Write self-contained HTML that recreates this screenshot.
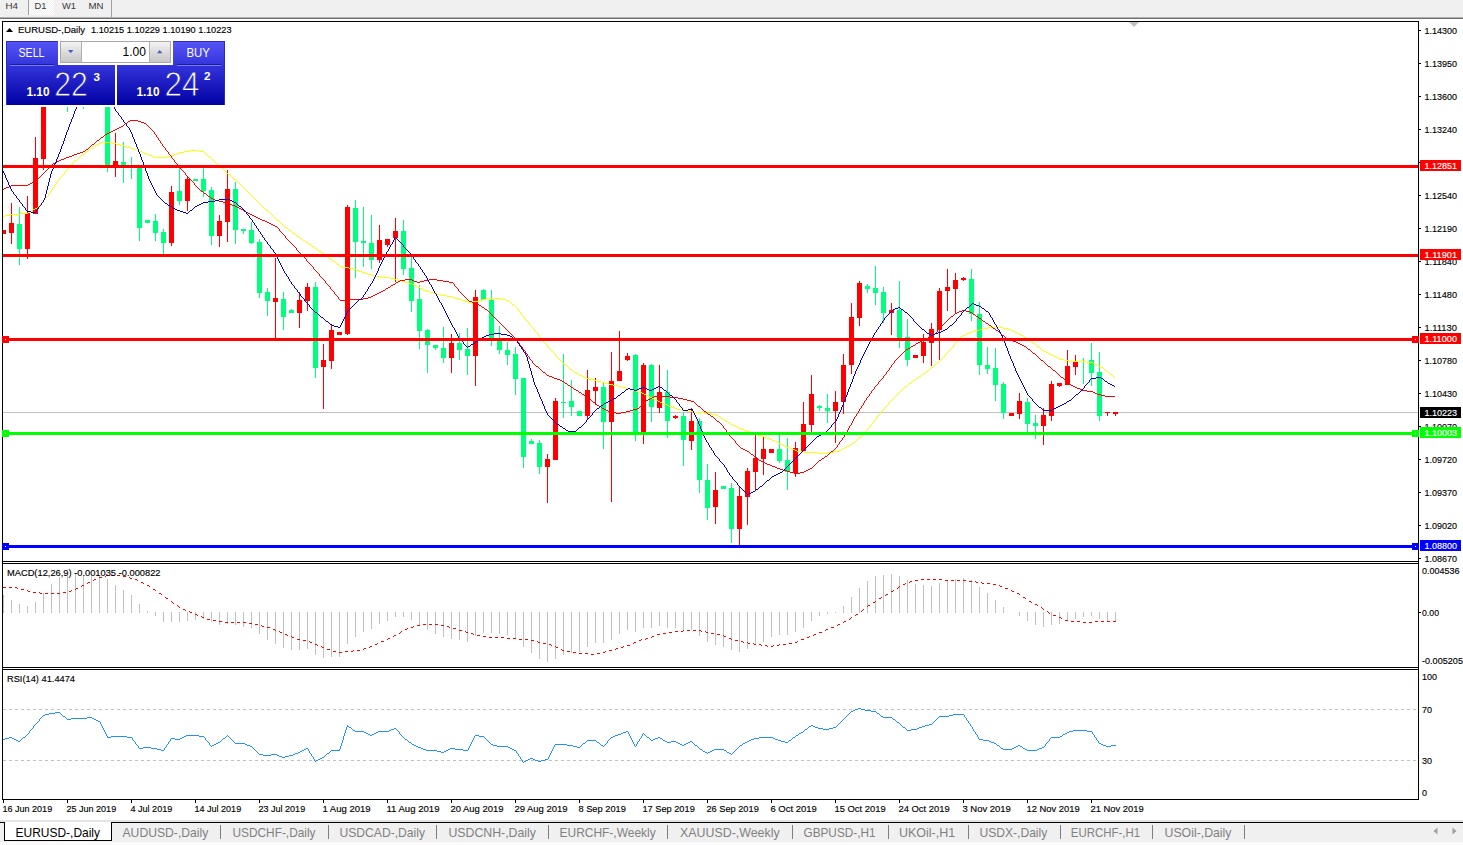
<!DOCTYPE html>
<html><head><meta charset="utf-8"><title>EURUSD-,Daily</title>
<style>html,body{margin:0;padding:0;background:#fff;overflow:hidden}svg{display:block}text{white-space:pre}</style></head>
<body>
<svg width="1463" height="845" viewBox="0 0 1463 845" font-family="Liberation Sans, Arial, sans-serif" shape-rendering="crispEdges">
<defs>
<clipPath id="cm"><rect x="3" y="22" width="1415" height="539"/></clipPath>
<clipPath id="c2"><rect x="3" y="564" width="1415" height="103"/></clipPath>
<clipPath id="c3"><rect x="3" y="670" width="1415" height="129"/></clipPath>
<linearGradient id="gb" gradientUnits="userSpaceOnUse" x1="0" y1="41" x2="0" y2="105"><stop offset="0" stop-color="#5656f6"/><stop offset="0.38" stop-color="#3434dc"/><stop offset="1" stop-color="#0000a2"/></linearGradient>
<linearGradient id="gs" x1="0" y1="0" x2="0" y2="1"><stop offset="0" stop-color="#f4f4f4"/><stop offset="0.5" stop-color="#dcdcdc"/><stop offset="1" stop-color="#c8c8c8"/></linearGradient>
<pattern id="chk" width="2" height="2" patternUnits="userSpaceOnUse"><rect width="2" height="2" fill="#f0f0f0"/><rect width="1" height="1" fill="#fff"/><rect x="1" y="1" width="1" height="1" fill="#fff"/></pattern>
</defs>
<rect x="0" y="0" width="1463" height="845" fill="#fff" />
<rect x="0" y="0" width="1463" height="17" fill="#f0f0f0" />
<rect x="0" y="17" width="1463" height="1" fill="#b0b0b0" />
<rect x="0" y="18" width="1463" height="1" fill="#707070" />
<rect x="29" y="0" width="25" height="15" fill="url(#chk)" />
<rect x="28" y="0" width="1" height="15" fill="#a0a0a0" />
<rect x="111" y="0" width="1" height="17" fill="#a0a0a0" />
<text x="5.5" y="9.3" font-size="9.8" fill="#383838" textLength="12.5" lengthAdjust="spacingAndGlyphs" stroke="none">H4</text>
<text x="34.5" y="9.3" font-size="9.8" fill="#383838" textLength="12" lengthAdjust="spacingAndGlyphs" stroke="none">D1</text>
<text x="62" y="9.3" font-size="9.8" fill="#383838" textLength="14" lengthAdjust="spacingAndGlyphs" stroke="none">W1</text>
<text x="88.5" y="9.3" font-size="9.8" fill="#383838" textLength="15" lengthAdjust="spacingAndGlyphs" stroke="none">MN</text>
<rect x="2" y="21" width="1417" height="1" fill="#000" />
<rect x="2" y="21" width="1" height="779" fill="#000" />
<rect x="1418" y="21" width="1" height="779" fill="#000" />
<rect x="2" y="799" width="1417" height="1" fill="#000" />
<rect x="2" y="561" width="1417" height="1" fill="#000" />
<rect x="2" y="563" width="1417" height="1" fill="#000" />
<rect x="2" y="667" width="1417" height="1" fill="#000" />
<rect x="2" y="669" width="1417" height="1" fill="#000" />
<rect x="3" y="562" width="1415" height="1" fill="#fff" />
<polygon points="1129,22 1139,22 1134,27" fill="#c0c0c0" shape-rendering="auto"/>
<g clip-path="url(#cm)">
<rect x="3" y="412" width="1415" height="1" fill="#c0c0c0" />
<rect x="3" y="230" width="1" height="4" fill="#ff0000" />
<rect x="1" y="230" width="5" height="4" fill="#ff0000" />
<rect x="11" y="203" width="1" height="41" fill="#ff0000" />
<rect x="9" y="223" width="5" height="10" fill="#ff0000" />
<rect x="19" y="207" width="1" height="58" fill="#00ff7f" />
<rect x="17" y="224" width="5" height="25" fill="#00ff7f" />
<rect x="27" y="196" width="1" height="63" fill="#ff0000" />
<rect x="25" y="213" width="5" height="36" fill="#ff0000" />
<rect x="35" y="137" width="1" height="77" fill="#ff0000" />
<rect x="33" y="158" width="5" height="56" fill="#ff0000" />
<rect x="43" y="60" width="1" height="110" fill="#ff0000" />
<rect x="41" y="70" width="5" height="89" fill="#ff0000" />
<rect x="67" y="60" width="1" height="52" fill="#00ff7f" />
<rect x="65" y="70" width="5" height="31" fill="#00ff7f" />
<rect x="83" y="60" width="1" height="49" fill="#00ff7f" />
<rect x="81" y="70" width="5" height="31" fill="#00ff7f" />
<rect x="107" y="60" width="1" height="112" fill="#00ff7f" />
<rect x="105" y="70" width="5" height="96" fill="#00ff7f" />
<rect x="115" y="133" width="1" height="44" fill="#ff0000" />
<rect x="113" y="161" width="5" height="6" fill="#ff0000" />
<rect x="123" y="142" width="1" height="41" fill="#00ff7f" />
<rect x="121" y="162" width="5" height="4" fill="#00ff7f" />
<rect x="131" y="157" width="1" height="22" fill="#00ff7f" />
<rect x="129" y="165" width="5" height="2" fill="#00ff7f" />
<rect x="139" y="167" width="1" height="74" fill="#00ff7f" />
<rect x="137" y="167" width="5" height="61" fill="#00ff7f" />
<rect x="147" y="220" width="1" height="3" fill="#00ff7f" />
<rect x="145" y="220" width="5" height="3" fill="#00ff7f" />
<rect x="155" y="214" width="1" height="27" fill="#00ff7f" />
<rect x="153" y="221" width="5" height="12" fill="#00ff7f" />
<rect x="163" y="229" width="1" height="25" fill="#00ff7f" />
<rect x="161" y="232" width="5" height="11" fill="#00ff7f" />
<rect x="171" y="186" width="1" height="60" fill="#ff0000" />
<rect x="169" y="192" width="5" height="51" fill="#ff0000" />
<rect x="179" y="167" width="1" height="38" fill="#00ff7f" />
<rect x="177" y="191" width="5" height="10" fill="#00ff7f" />
<rect x="187" y="176" width="1" height="35" fill="#ff0000" />
<rect x="185" y="179" width="5" height="22" fill="#ff0000" />
<rect x="195" y="179" width="1" height="2" fill="#00ff7f" />
<rect x="193" y="179" width="5" height="2" fill="#00ff7f" />
<rect x="203" y="168" width="1" height="29" fill="#00ff7f" />
<rect x="201" y="179" width="5" height="12" fill="#00ff7f" />
<rect x="211" y="187" width="1" height="58" fill="#00ff7f" />
<rect x="209" y="190" width="5" height="46" fill="#00ff7f" />
<rect x="219" y="215" width="1" height="32" fill="#ff0000" />
<rect x="217" y="221" width="5" height="15" fill="#ff0000" />
<rect x="227" y="170" width="1" height="72" fill="#ff0000" />
<rect x="225" y="189" width="5" height="33" fill="#ff0000" />
<rect x="235" y="182" width="1" height="62" fill="#00ff7f" />
<rect x="233" y="189" width="5" height="41" fill="#00ff7f" />
<rect x="243" y="229" width="1" height="5" fill="#00ff7f" />
<rect x="241" y="229" width="5" height="2" fill="#00ff7f" />
<rect x="251" y="222" width="1" height="22" fill="#00ff7f" />
<rect x="249" y="230" width="5" height="13" fill="#00ff7f" />
<rect x="259" y="239" width="1" height="59" fill="#00ff7f" />
<rect x="257" y="242" width="5" height="51" fill="#00ff7f" />
<rect x="267" y="288" width="1" height="28" fill="#00ff7f" />
<rect x="265" y="292" width="5" height="9" fill="#00ff7f" />
<rect x="275" y="258" width="1" height="80" fill="#ff0000" />
<rect x="273" y="298" width="5" height="4" fill="#ff0000" />
<rect x="283" y="292" width="1" height="38" fill="#00ff7f" />
<rect x="281" y="299" width="5" height="18" fill="#00ff7f" />
<rect x="291" y="309" width="1" height="4" fill="#00ff7f" />
<rect x="289" y="310" width="5" height="3" fill="#00ff7f" />
<rect x="299" y="292" width="1" height="36" fill="#ff0000" />
<rect x="297" y="300" width="5" height="13" fill="#ff0000" />
<rect x="307" y="283" width="1" height="28" fill="#ff0000" />
<rect x="305" y="287" width="5" height="14" fill="#ff0000" />
<rect x="315" y="282" width="1" height="96" fill="#00ff7f" />
<rect x="313" y="287" width="5" height="81" fill="#00ff7f" />
<rect x="323" y="344" width="1" height="65" fill="#ff0000" />
<rect x="321" y="360" width="5" height="7" fill="#ff0000" />
<rect x="331" y="325" width="1" height="44" fill="#ff0000" />
<rect x="329" y="330" width="5" height="31" fill="#ff0000" />
<rect x="339" y="332" width="1" height="3" fill="#ff0000" />
<rect x="337" y="332" width="5" height="3" fill="#ff0000" />
<rect x="347" y="205" width="1" height="130" fill="#ff0000" />
<rect x="345" y="207" width="5" height="127" fill="#ff0000" />
<rect x="355" y="200" width="1" height="78" fill="#00ff7f" />
<rect x="353" y="208" width="5" height="34" fill="#00ff7f" />
<rect x="363" y="207" width="1" height="60" fill="#00ff7f" />
<rect x="361" y="241" width="5" height="2" fill="#00ff7f" />
<rect x="371" y="215" width="1" height="54" fill="#00ff7f" />
<rect x="369" y="243" width="5" height="17" fill="#00ff7f" />
<rect x="379" y="225" width="1" height="38" fill="#ff0000" />
<rect x="377" y="240" width="5" height="20" fill="#ff0000" />
<rect x="387" y="239" width="1" height="8" fill="#ff0000" />
<rect x="385" y="239" width="5" height="6" fill="#ff0000" />
<rect x="395" y="218" width="1" height="64" fill="#ff0000" />
<rect x="393" y="231" width="5" height="7" fill="#ff0000" />
<rect x="403" y="220" width="1" height="55" fill="#00ff7f" />
<rect x="401" y="231" width="5" height="38" fill="#00ff7f" />
<rect x="411" y="255" width="1" height="57" fill="#00ff7f" />
<rect x="409" y="268" width="5" height="33" fill="#00ff7f" />
<rect x="419" y="285" width="1" height="64" fill="#00ff7f" />
<rect x="417" y="299" width="5" height="32" fill="#00ff7f" />
<rect x="427" y="329" width="1" height="44" fill="#00ff7f" />
<rect x="425" y="330" width="5" height="15" fill="#00ff7f" />
<rect x="435" y="345" width="1" height="5" fill="#00ff7f" />
<rect x="433" y="345" width="5" height="3" fill="#00ff7f" />
<rect x="443" y="327" width="1" height="36" fill="#00ff7f" />
<rect x="441" y="348" width="5" height="10" fill="#00ff7f" />
<rect x="451" y="334" width="1" height="39" fill="#ff0000" />
<rect x="449" y="343" width="5" height="15" fill="#ff0000" />
<rect x="459" y="333" width="1" height="27" fill="#00ff7f" />
<rect x="457" y="343" width="5" height="7" fill="#00ff7f" />
<rect x="467" y="328" width="1" height="47" fill="#00ff7f" />
<rect x="465" y="349" width="5" height="7" fill="#00ff7f" />
<rect x="475" y="290" width="1" height="96" fill="#ff0000" />
<rect x="473" y="297" width="5" height="59" fill="#ff0000" />
<rect x="483" y="289" width="1" height="11" fill="#00ff7f" />
<rect x="481" y="290" width="5" height="10" fill="#00ff7f" />
<rect x="491" y="290" width="1" height="56" fill="#00ff7f" />
<rect x="489" y="300" width="5" height="38" fill="#00ff7f" />
<rect x="499" y="326" width="1" height="28" fill="#00ff7f" />
<rect x="497" y="340" width="5" height="10" fill="#00ff7f" />
<rect x="507" y="342" width="1" height="23" fill="#00ff7f" />
<rect x="505" y="350" width="5" height="5" fill="#00ff7f" />
<rect x="515" y="347" width="1" height="48" fill="#00ff7f" />
<rect x="513" y="354" width="5" height="25" fill="#00ff7f" />
<rect x="523" y="378" width="1" height="90" fill="#00ff7f" />
<rect x="521" y="378" width="5" height="79" fill="#00ff7f" />
<rect x="531" y="439" width="1" height="5" fill="#00ff7f" />
<rect x="529" y="441" width="5" height="3" fill="#00ff7f" />
<rect x="539" y="440" width="1" height="34" fill="#00ff7f" />
<rect x="537" y="443" width="5" height="24" fill="#00ff7f" />
<rect x="547" y="454" width="1" height="49" fill="#ff0000" />
<rect x="545" y="459" width="5" height="8" fill="#ff0000" />
<rect x="555" y="398" width="1" height="62" fill="#ff0000" />
<rect x="553" y="401" width="5" height="59" fill="#ff0000" />
<rect x="563" y="354" width="1" height="64" fill="#00ff7f" />
<rect x="561" y="402" width="5" height="1" fill="#00ff7f" />
<rect x="571" y="380" width="1" height="36" fill="#00ff7f" />
<rect x="569" y="401" width="5" height="6" fill="#00ff7f" />
<rect x="579" y="411" width="1" height="5" fill="#00ff7f" />
<rect x="577" y="411" width="5" height="5" fill="#00ff7f" />
<rect x="587" y="370" width="1" height="50" fill="#ff0000" />
<rect x="585" y="390" width="5" height="26" fill="#ff0000" />
<rect x="595" y="378" width="1" height="27" fill="#ff0000" />
<rect x="593" y="387" width="5" height="4" fill="#ff0000" />
<rect x="603" y="382" width="1" height="67" fill="#00ff7f" />
<rect x="601" y="387" width="5" height="35" fill="#00ff7f" />
<rect x="611" y="352" width="1" height="150" fill="#ff0000" />
<rect x="609" y="381" width="5" height="41" fill="#ff0000" />
<rect x="619" y="331" width="1" height="50" fill="#ff0000" />
<rect x="617" y="371" width="5" height="10" fill="#ff0000" />
<rect x="627" y="353" width="1" height="8" fill="#ff0000" />
<rect x="625" y="356" width="5" height="4" fill="#ff0000" />
<rect x="635" y="354" width="1" height="87" fill="#00ff7f" />
<rect x="633" y="355" width="5" height="77" fill="#00ff7f" />
<rect x="643" y="363" width="1" height="81" fill="#ff0000" />
<rect x="641" y="365" width="5" height="67" fill="#ff0000" />
<rect x="651" y="364" width="1" height="58" fill="#00ff7f" />
<rect x="649" y="365" width="5" height="42" fill="#00ff7f" />
<rect x="659" y="365" width="1" height="48" fill="#ff0000" />
<rect x="657" y="392" width="5" height="16" fill="#ff0000" />
<rect x="667" y="370" width="1" height="68" fill="#00ff7f" />
<rect x="665" y="392" width="5" height="29" fill="#00ff7f" />
<rect x="675" y="415" width="1" height="4" fill="#ff0000" />
<rect x="673" y="416" width="5" height="2" fill="#ff0000" />
<rect x="683" y="412" width="1" height="54" fill="#00ff7f" />
<rect x="681" y="416" width="5" height="24" fill="#00ff7f" />
<rect x="691" y="408" width="1" height="42" fill="#ff0000" />
<rect x="689" y="421" width="5" height="20" fill="#ff0000" />
<rect x="699" y="418" width="1" height="75" fill="#00ff7f" />
<rect x="697" y="421" width="5" height="59" fill="#00ff7f" />
<rect x="707" y="464" width="1" height="56" fill="#00ff7f" />
<rect x="705" y="480" width="5" height="28" fill="#00ff7f" />
<rect x="715" y="472" width="1" height="52" fill="#ff0000" />
<rect x="713" y="490" width="5" height="17" fill="#ff0000" />
<rect x="723" y="486" width="1" height="2" fill="#00ff7f" />
<rect x="721" y="486" width="5" height="3" fill="#00ff7f" />
<rect x="731" y="483" width="1" height="60" fill="#00ff7f" />
<rect x="729" y="488" width="5" height="41" fill="#00ff7f" />
<rect x="739" y="487" width="1" height="58" fill="#ff0000" />
<rect x="737" y="496" width="5" height="33" fill="#ff0000" />
<rect x="747" y="468" width="1" height="57" fill="#ff0000" />
<rect x="745" y="471" width="5" height="26" fill="#ff0000" />
<rect x="755" y="435" width="1" height="55" fill="#ff0000" />
<rect x="753" y="458" width="5" height="14" fill="#ff0000" />
<rect x="763" y="436" width="1" height="39" fill="#ff0000" />
<rect x="761" y="449" width="5" height="10" fill="#ff0000" />
<rect x="771" y="449" width="1" height="4" fill="#ff0000" />
<rect x="769" y="449" width="5" height="4" fill="#ff0000" />
<rect x="779" y="435" width="1" height="28" fill="#00ff7f" />
<rect x="777" y="449" width="5" height="12" fill="#00ff7f" />
<rect x="787" y="438" width="1" height="52" fill="#00ff7f" />
<rect x="785" y="460" width="5" height="12" fill="#00ff7f" />
<rect x="795" y="442" width="1" height="35" fill="#ff0000" />
<rect x="793" y="448" width="5" height="25" fill="#ff0000" />
<rect x="803" y="402" width="1" height="49" fill="#ff0000" />
<rect x="801" y="424" width="5" height="27" fill="#ff0000" />
<rect x="811" y="375" width="1" height="57" fill="#ff0000" />
<rect x="809" y="394" width="5" height="31" fill="#ff0000" />
<rect x="819" y="405" width="1" height="6" fill="#00ff7f" />
<rect x="817" y="406" width="5" height="2" fill="#00ff7f" />
<rect x="827" y="394" width="1" height="29" fill="#00ff7f" />
<rect x="825" y="408" width="5" height="3" fill="#00ff7f" />
<rect x="835" y="391" width="1" height="52" fill="#ff0000" />
<rect x="833" y="402" width="5" height="9" fill="#ff0000" />
<rect x="843" y="354" width="1" height="60" fill="#ff0000" />
<rect x="841" y="365" width="5" height="37" fill="#ff0000" />
<rect x="851" y="303" width="1" height="71" fill="#ff0000" />
<rect x="849" y="317" width="5" height="48" fill="#ff0000" />
<rect x="859" y="281" width="1" height="45" fill="#ff0000" />
<rect x="857" y="283" width="5" height="35" fill="#ff0000" />
<rect x="867" y="284" width="1" height="9" fill="#00ff7f" />
<rect x="865" y="286" width="5" height="3" fill="#00ff7f" />
<rect x="875" y="266" width="1" height="39" fill="#00ff7f" />
<rect x="873" y="288" width="5" height="5" fill="#00ff7f" />
<rect x="883" y="287" width="1" height="36" fill="#00ff7f" />
<rect x="881" y="292" width="5" height="21" fill="#00ff7f" />
<rect x="891" y="303" width="1" height="32" fill="#ff0000" />
<rect x="889" y="310" width="5" height="3" fill="#ff0000" />
<rect x="899" y="281" width="1" height="67" fill="#00ff7f" />
<rect x="897" y="310" width="5" height="28" fill="#00ff7f" />
<rect x="907" y="319" width="1" height="47" fill="#00ff7f" />
<rect x="905" y="337" width="5" height="23" fill="#00ff7f" />
<rect x="915" y="355" width="1" height="3" fill="#ff0000" />
<rect x="913" y="355" width="5" height="3" fill="#ff0000" />
<rect x="923" y="334" width="1" height="29" fill="#ff0000" />
<rect x="921" y="342" width="5" height="14" fill="#ff0000" />
<rect x="931" y="323" width="1" height="43" fill="#ff0000" />
<rect x="929" y="329" width="5" height="14" fill="#ff0000" />
<rect x="939" y="288" width="1" height="72" fill="#ff0000" />
<rect x="937" y="291" width="5" height="39" fill="#ff0000" />
<rect x="947" y="269" width="1" height="42" fill="#ff0000" />
<rect x="945" y="287" width="5" height="4" fill="#ff0000" />
<rect x="955" y="273" width="1" height="40" fill="#ff0000" />
<rect x="953" y="280" width="5" height="9" fill="#ff0000" />
<rect x="963" y="277" width="1" height="4" fill="#ff0000" />
<rect x="961" y="278" width="5" height="2" fill="#ff0000" />
<rect x="971" y="269" width="1" height="52" fill="#00ff7f" />
<rect x="969" y="279" width="5" height="35" fill="#00ff7f" />
<rect x="979" y="302" width="1" height="73" fill="#00ff7f" />
<rect x="977" y="314" width="5" height="51" fill="#00ff7f" />
<rect x="987" y="347" width="1" height="27" fill="#00ff7f" />
<rect x="985" y="365" width="5" height="4" fill="#00ff7f" />
<rect x="995" y="348" width="1" height="53" fill="#00ff7f" />
<rect x="993" y="368" width="5" height="17" fill="#00ff7f" />
<rect x="1003" y="382" width="1" height="37" fill="#00ff7f" />
<rect x="1001" y="384" width="5" height="29" fill="#00ff7f" />
<rect x="1011" y="413" width="1" height="3" fill="#ff0000" />
<rect x="1009" y="413" width="5" height="3" fill="#ff0000" />
<rect x="1019" y="393" width="1" height="26" fill="#ff0000" />
<rect x="1017" y="401" width="5" height="13" fill="#ff0000" />
<rect x="1027" y="398" width="1" height="34" fill="#00ff7f" />
<rect x="1025" y="402" width="5" height="22" fill="#00ff7f" />
<rect x="1035" y="415" width="1" height="24" fill="#00ff7f" />
<rect x="1033" y="423" width="5" height="3" fill="#00ff7f" />
<rect x="1043" y="408" width="1" height="37" fill="#ff0000" />
<rect x="1041" y="415" width="5" height="11" fill="#ff0000" />
<rect x="1051" y="381" width="1" height="40" fill="#ff0000" />
<rect x="1049" y="384" width="5" height="32" fill="#ff0000" />
<rect x="1059" y="383" width="1" height="4" fill="#ff0000" />
<rect x="1057" y="383" width="5" height="3" fill="#ff0000" />
<rect x="1067" y="350" width="1" height="35" fill="#ff0000" />
<rect x="1065" y="366" width="5" height="19" fill="#ff0000" />
<rect x="1075" y="355" width="1" height="20" fill="#ff0000" />
<rect x="1073" y="362" width="5" height="5" fill="#ff0000" />
<rect x="1083" y="358" width="1" height="26" fill="#00ff7f" />
<rect x="1091" y="343" width="1" height="43" fill="#00ff7f" />
<rect x="1089" y="360" width="5" height="13" fill="#00ff7f" />
<rect x="1099" y="352" width="1" height="69" fill="#00ff7f" />
<rect x="1097" y="372" width="5" height="44" fill="#00ff7f" />
<rect x="1107" y="412" width="1" height="4" fill="#ff0000" />
<rect x="1105" y="412" width="5" height="1" fill="#ff0000" />
<rect x="1115" y="412" width="1" height="4" fill="#ff0000" />
<rect x="1113" y="412" width="5" height="2" fill="#ff0000" />
</g>
<g clip-path="url(#cm)">
<path d="M101 142.5h11M99 143.5h2M112 143.5h4M97 144.5h2M116 144.5h4M95 145.5h2M120 145.5h4M93 146.5h2M124 146.5h3M92 147.5h1M127 147.5h4M90 148.5h2M131 148.5h3M89 149.5h1M134 149.5h3M88 150.5h1M137 150.5h2M190 150.5h9M86 151.5h2M139 151.5h3M184 151.5h6M199 151.5h5M85 152.5h1M142 152.5h2M180 152.5h4M204 152.5h1M84 153.5h1M144 153.5h3M177 153.5h3M205 153.5h1M82 154.5h2M147 154.5h2M174 154.5h3M206 154.5h1M81 155.5h1M149 155.5h3M170 155.5h4M207 155.5h1M80 156.5h1M152 156.5h2M167 156.5h3M208 156.5h2M79 157.5h1M154 157.5h13M210 157.5h1M78 158.5h1M211 158.5h1M77 159.5h1M212 159.5h1M75 160.5h2M213 160.5h1M74 161.5h1M214 161.5h1M73 162.5h1M215 162.5h1M72 163.5h1M216 163.5h1M71 164.5h1M217 164.5h1M70 165.5h1M218 165.5h1M69 166.5h1M219 166.5h2M68 167.5h1M221 167.5h1M68 168.5h1M222 168.5h1M67 169.5h1M223 169.5h1M66 170.5h1M224 170.5h1M65 171.5h1M225 171.5h1M64 172.5h1M226 172.5h1M64 173.5h1M227 173.5h1M63 174.5h1M228 174.5h2M62 175.5h1M230 175.5h1M61 176.5h1M231 176.5h1M60 177.5h1M232 177.5h1M59 178.5h1M233 178.5h1M59 179.5h1M234 179.5h2M58 180.5h1M236 180.5h1M57 181.5h1M237 181.5h1M56 182.5h1M238 182.5h1M56 183.5h1M239 183.5h1M55 184.5h1M240 184.5h1M54 185.5h1M241 185.5h1M54 186.5h1M242 186.5h1M53 187.5h1M243 187.5h1M52 188.5h1M244 188.5h1M52 189.5h1M245 189.5h1M51 190.5h1M246 190.5h1M50 191.5h1M247 191.5h1M50 192.5h1M248 192.5h1M49 193.5h1M249 193.5h1M48 194.5h1M250 194.5h1M48 195.5h1M251 195.5h1M47 196.5h1M252 196.5h1M46 197.5h1M253 197.5h1M45 198.5h1M254 198.5h1M44 199.5h1M255 199.5h1M43 200.5h1M256 200.5h1M42 201.5h1M257 201.5h1M42 202.5h1M258 202.5h1M41 203.5h1M259 203.5h1M40 204.5h1M260 204.5h1M39 205.5h1M261 205.5h1M38 206.5h1M262 206.5h1M37 207.5h1M263 207.5h1M35 208.5h2M264 208.5h1M33 209.5h2M265 209.5h1M32 210.5h1M266 210.5h2M30 211.5h2M268 211.5h1M28 212.5h2M269 212.5h1M20 213.5h8M270 213.5h1M10 214.5h10M271 214.5h1M5 215.5h5M272 215.5h1M3 216.5h2M273 216.5h1M274 217.5h1M275 218.5h1M276 219.5h1M277 220.5h2M279 221.5h1M280 222.5h1M281 223.5h1M282 224.5h1M283 225.5h1M284 226.5h1M285 227.5h2M287 228.5h1M288 229.5h1M289 230.5h2M291 231.5h1M292 232.5h1M293 233.5h2M295 234.5h1M296 235.5h1M297 236.5h2M299 237.5h1M300 238.5h2M302 239.5h1M303 240.5h2M305 241.5h1M306 242.5h2M308 243.5h1M309 244.5h2M311 245.5h1M312 246.5h2M314 247.5h1M315 248.5h1M316 249.5h2M318 250.5h1M319 251.5h2M321 252.5h1M322 253.5h2M324 254.5h1M325 255.5h1M326 256.5h2M328 257.5h1M329 258.5h2M331 259.5h1M332 260.5h1M333 261.5h2M335 262.5h1M336 263.5h1M337 264.5h2M339 265.5h1M340 266.5h3M343 267.5h6M349 268.5h4M353 269.5h3M356 270.5h3M359 271.5h3M362 272.5h3M365 273.5h3M368 274.5h3M371 275.5h3M374 276.5h8M382 277.5h8M390 278.5h4M394 279.5h4M398 280.5h4M402 281.5h3M405 282.5h4M409 283.5h3M412 284.5h2M414 285.5h2M416 286.5h2M418 287.5h2M420 288.5h2M422 289.5h2M424 290.5h3M427 291.5h3M430 292.5h4M434 293.5h3M437 294.5h4M441 295.5h6M447 296.5h5M452 297.5h3M455 298.5h4M486 298.5h15M459 299.5h3M482 299.5h4M501 299.5h5M462 300.5h3M479 300.5h3M506 300.5h3M465 301.5h3M473 301.5h6M509 301.5h1M468 302.5h5M510 302.5h1M511 303.5h1M512 304.5h2M514 305.5h1M515 306.5h1M516 307.5h1M517 308.5h1M518 309.5h1M518 310.5h1M519 311.5h1M520 312.5h1M521 313.5h1M521 314.5h1M522 315.5h1M523 316.5h1M524 317.5h1M524 318.5h1M525 319.5h1M526 320.5h1M527 321.5h1M528 322.5h1M529 323.5h1M529 324.5h1M530 325.5h1M531 326.5h1M532 327.5h1M988 327.5h15M533 328.5h1M983 328.5h5M1003 328.5h5M534 329.5h1M979 329.5h4M1008 329.5h3M534 330.5h1M975 330.5h4M1011 330.5h2M535 331.5h1M972 331.5h3M1013 331.5h2M536 332.5h1M969 332.5h3M1015 332.5h2M537 333.5h1M967 333.5h2M1017 333.5h2M538 334.5h1M965 334.5h2M1019 334.5h2M538 335.5h1M963 335.5h2M1021 335.5h2M539 336.5h1M961 336.5h2M1023 336.5h1M540 337.5h1M960 337.5h1M1024 337.5h2M541 338.5h1M959 338.5h1M1026 338.5h2M542 339.5h1M958 339.5h1M1028 339.5h1M542 340.5h1M958 340.5h1M1029 340.5h2M543 341.5h1M957 341.5h1M1031 341.5h1M544 342.5h1M956 342.5h1M1032 342.5h1M545 343.5h1M955 343.5h1M1033 343.5h2M546 344.5h1M954 344.5h1M1035 344.5h1M546 345.5h1M953 345.5h1M1036 345.5h1M547 346.5h1M953 346.5h1M1037 346.5h1M548 347.5h1M952 347.5h1M1038 347.5h2M549 348.5h1M951 348.5h1M1040 348.5h1M550 349.5h1M950 349.5h1M1041 349.5h1M551 350.5h1M949 350.5h1M1042 350.5h2M552 351.5h1M948 351.5h1M1044 351.5h2M553 352.5h1M947 352.5h1M1046 352.5h2M554 353.5h1M946 353.5h1M1048 353.5h2M555 354.5h1M945 354.5h1M1050 354.5h2M555 355.5h1M945 355.5h1M1052 355.5h2M556 356.5h1M944 356.5h1M1054 356.5h2M557 357.5h1M943 357.5h1M1056 357.5h2M558 358.5h1M942 358.5h1M1058 358.5h2M559 359.5h1M941 359.5h1M1060 359.5h4M560 360.5h1M940 360.5h1M1064 360.5h5M561 361.5h1M939 361.5h1M1069 361.5h17M562 362.5h1M937 362.5h2M1086 362.5h7M563 363.5h1M936 363.5h1M1093 363.5h2M564 364.5h2M935 364.5h1M1095 364.5h2M566 365.5h1M934 365.5h1M1097 365.5h2M567 366.5h1M933 366.5h1M1099 366.5h2M568 367.5h1M931 367.5h2M1101 367.5h2M569 368.5h1M930 368.5h1M1103 368.5h1M570 369.5h2M929 369.5h1M1104 369.5h1M572 370.5h1M928 370.5h1M1105 370.5h2M573 371.5h1M926 371.5h2M1107 371.5h1M574 372.5h2M925 372.5h1M1108 372.5h1M576 373.5h2M923 373.5h2M1109 373.5h1M578 374.5h2M922 374.5h1M1110 374.5h2M580 375.5h2M921 375.5h1M1112 375.5h1M582 376.5h2M919 376.5h2M1113 376.5h1M584 377.5h2M918 377.5h1M1114 377.5h1M586 378.5h3M916 378.5h2M589 379.5h5M915 379.5h1M594 380.5h4M913 380.5h2M598 381.5h3M912 381.5h1M601 382.5h4M911 382.5h1M605 383.5h4M909 383.5h2M609 384.5h4M908 384.5h1M613 385.5h5M907 385.5h1M618 386.5h4M905 386.5h2M622 387.5h4M904 387.5h1M626 388.5h4M903 388.5h1M630 389.5h3M902 389.5h1M633 390.5h3M901 390.5h1M636 391.5h3M900 391.5h1M639 392.5h3M899 392.5h1M642 393.5h2M898 393.5h1M644 394.5h2M897 394.5h1M646 395.5h2M896 395.5h1M648 396.5h2M895 396.5h1M650 397.5h2M894 397.5h1M652 398.5h2M893 398.5h1M654 399.5h2M892 399.5h1M656 400.5h2M891 400.5h1M658 401.5h2M890 401.5h1M660 402.5h2M889 402.5h1M662 403.5h2M888 403.5h1M664 404.5h3M888 404.5h1M667 405.5h2M887 405.5h1M669 406.5h3M886 406.5h1M672 407.5h3M885 407.5h1M675 408.5h2M884 408.5h1M677 409.5h4M883 409.5h1M681 410.5h5M882 410.5h1M686 411.5h8M881 411.5h1M694 412.5h10M880 412.5h1M704 413.5h8M880 413.5h1M712 414.5h4M879 414.5h1M716 415.5h2M878 415.5h1M718 416.5h2M877 416.5h1M720 417.5h1M877 417.5h1M721 418.5h2M876 418.5h1M723 419.5h2M875 419.5h1M725 420.5h1M874 420.5h1M726 421.5h2M874 421.5h1M728 422.5h2M873 422.5h1M730 423.5h1M872 423.5h1M731 424.5h2M871 424.5h1M733 425.5h2M870 425.5h1M735 426.5h2M870 426.5h1M737 427.5h2M869 427.5h1M739 428.5h3M868 428.5h1M742 429.5h2M867 429.5h1M744 430.5h3M866 430.5h1M747 431.5h3M865 431.5h1M750 432.5h2M865 432.5h1M752 433.5h3M864 433.5h1M755 434.5h3M863 434.5h1M758 435.5h3M862 435.5h1M761 436.5h3M861 436.5h1M764 437.5h3M859 437.5h2M767 438.5h3M858 438.5h1M770 439.5h2M857 439.5h1M772 440.5h3M856 440.5h1M775 441.5h2M855 441.5h1M777 442.5h2M853 442.5h2M779 443.5h2M852 443.5h1M781 444.5h2M851 444.5h1M783 445.5h2M849 445.5h2M785 446.5h2M847 446.5h2M787 447.5h3M845 447.5h2M790 448.5h2M843 448.5h2M792 449.5h3M841 449.5h2M795 450.5h2M839 450.5h2M797 451.5h7M834 451.5h5M804 452.5h14M828 452.5h6M818 453.5h10" fill="none" stroke="#ffff00" stroke-width="1"/>
<path d="M130 120.5h8M128 121.5h2M138 121.5h3M127 122.5h1M141 122.5h3M125 123.5h2M144 123.5h2M124 124.5h1M146 124.5h1M123 125.5h1M147 125.5h1M121 126.5h2M148 126.5h1M119 127.5h2M149 127.5h1M117 128.5h2M150 128.5h1M115 129.5h2M151 129.5h1M113 130.5h2M152 130.5h1M111 131.5h2M153 131.5h1M109 132.5h2M154 132.5h1M107 133.5h2M154 133.5h1M105 134.5h2M155 134.5h1M104 135.5h1M156 135.5h1M103 136.5h1M156 136.5h1M101 137.5h2M157 137.5h1M100 138.5h1M158 138.5h1M99 139.5h1M158 139.5h1M97 140.5h2M159 140.5h1M96 141.5h1M160 141.5h1M95 142.5h1M160 142.5h1M94 143.5h1M161 143.5h1M92 144.5h2M162 144.5h1M91 145.5h1M162 145.5h1M90 146.5h1M163 146.5h1M89 147.5h1M164 147.5h1M88 148.5h1M165 148.5h1M86 149.5h2M165 149.5h1M85 150.5h1M166 150.5h1M83 151.5h2M167 151.5h1M80 152.5h3M168 152.5h1M77 153.5h3M168 153.5h1M74 154.5h3M169 154.5h1M72 155.5h2M170 155.5h1M69 156.5h3M171 156.5h1M66 157.5h3M171 157.5h1M64 158.5h2M172 158.5h1M61 159.5h3M173 159.5h1M59 160.5h2M174 160.5h1M57 161.5h2M174 161.5h1M55 162.5h2M175 162.5h1M53 163.5h2M176 163.5h1M52 164.5h1M177 164.5h1M51 165.5h1M178 165.5h1M50 166.5h1M178 166.5h1M49 167.5h1M179 167.5h1M48 168.5h1M180 168.5h1M47 169.5h1M181 169.5h1M46 170.5h1M182 170.5h1M45 171.5h1M183 171.5h1M44 172.5h1M184 172.5h1M43 173.5h1M185 173.5h1M42 174.5h1M185 174.5h1M41 175.5h1M186 175.5h1M40 176.5h1M187 176.5h1M39 177.5h1M188 177.5h1M38 178.5h1M189 178.5h1M37 179.5h1M190 179.5h1M36 180.5h1M191 180.5h1M34 181.5h2M192 181.5h1M32 182.5h2M193 182.5h1M30 183.5h2M194 183.5h1M28 184.5h2M194 184.5h1M11 185.5h17M195 185.5h1M9 186.5h2M196 186.5h1M6 187.5h3M197 187.5h1M4 188.5h2M198 188.5h1M3 189.5h1M199 189.5h1M200 190.5h1M201 191.5h2M203 192.5h1M204 193.5h2M206 194.5h1M207 195.5h1M208 196.5h2M210 197.5h1M211 198.5h2M213 199.5h2M215 200.5h4M219 201.5h4M223 202.5h4M227 203.5h2M229 204.5h3M232 205.5h3M235 206.5h2M237 207.5h2M239 208.5h2M241 209.5h2M243 210.5h1M244 211.5h2M246 212.5h2M248 213.5h2M250 214.5h2M252 215.5h2M254 216.5h2M256 217.5h2M258 218.5h2M260 219.5h2M262 220.5h3M265 221.5h2M267 222.5h2M269 223.5h2M271 224.5h2M273 225.5h2M275 226.5h2M277 227.5h1M278 228.5h1M279 229.5h1M279 230.5h1M280 231.5h1M281 232.5h1M282 233.5h1M283 234.5h1M284 235.5h1M285 236.5h1M285 237.5h1M286 238.5h1M287 239.5h1M288 240.5h1M289 241.5h1M290 242.5h1M291 243.5h1M292 244.5h1M293 245.5h1M294 246.5h1M295 247.5h1M296 248.5h1M296 249.5h1M297 250.5h1M298 251.5h1M299 252.5h1M300 253.5h1M301 254.5h1M302 255.5h1M303 256.5h1M304 257.5h1M305 258.5h1M306 259.5h1M306 260.5h1M307 261.5h1M308 262.5h1M309 263.5h1M310 264.5h1M311 265.5h1M312 266.5h1M313 267.5h1M313 268.5h1M314 269.5h1M315 270.5h1M316 271.5h1M317 272.5h1M318 273.5h1M319 274.5h1M319 275.5h1M320 276.5h1M321 277.5h1M322 278.5h1M323 279.5h1M405 279.5h7M429 279.5h8M324 280.5h1M400 280.5h5M412 280.5h2M424 280.5h5M437 280.5h6M325 281.5h1M398 281.5h2M414 281.5h3M420 281.5h4M443 281.5h6M325 282.5h1M396 282.5h2M417 282.5h3M449 282.5h4M326 283.5h1M395 283.5h1M453 283.5h1M327 284.5h1M393 284.5h2M454 284.5h1M328 285.5h1M391 285.5h2M454 285.5h1M329 286.5h1M390 286.5h1M455 286.5h1M330 287.5h1M388 287.5h2M456 287.5h1M330 288.5h1M386 288.5h2M457 288.5h1M331 289.5h1M385 289.5h1M458 289.5h1M332 290.5h1M383 290.5h2M458 290.5h1M333 291.5h1M381 291.5h2M459 291.5h1M334 292.5h1M379 292.5h2M460 292.5h1M334 293.5h1M377 293.5h2M461 293.5h1M335 294.5h1M375 294.5h2M462 294.5h1M336 295.5h1M373 295.5h2M463 295.5h1M337 296.5h1M371 296.5h2M464 296.5h1M338 297.5h1M368 297.5h3M465 297.5h1M338 298.5h1M363 298.5h5M466 298.5h1M339 299.5h1M346 299.5h17M467 299.5h1M340 300.5h6M468 300.5h1M469 301.5h3M472 302.5h4M476 303.5h2M478 304.5h1M479 305.5h2M481 306.5h1M482 307.5h2M484 308.5h1M485 309.5h2M487 310.5h1M962 310.5h4M488 311.5h1M959 311.5h3M966 311.5h4M489 312.5h1M957 312.5h2M970 312.5h2M490 313.5h1M955 313.5h2M972 313.5h1M491 314.5h1M954 314.5h1M973 314.5h2M492 315.5h1M953 315.5h1M975 315.5h1M493 316.5h1M951 316.5h2M976 316.5h2M494 317.5h1M950 317.5h1M978 317.5h1M495 318.5h1M949 318.5h1M979 318.5h2M496 319.5h1M948 319.5h1M981 319.5h1M497 320.5h1M947 320.5h1M982 320.5h1M498 321.5h1M946 321.5h1M983 321.5h2M499 322.5h1M945 322.5h1M985 322.5h1M500 323.5h1M944 323.5h1M986 323.5h2M501 324.5h1M943 324.5h1M988 324.5h1M502 325.5h1M942 325.5h1M989 325.5h2M503 326.5h1M941 326.5h1M991 326.5h1M504 327.5h1M940 327.5h1M992 327.5h1M505 328.5h1M939 328.5h1M993 328.5h2M506 329.5h1M938 329.5h1M995 329.5h1M507 330.5h1M937 330.5h1M996 330.5h2M508 331.5h1M937 331.5h1M998 331.5h1M509 332.5h1M936 332.5h1M999 332.5h1M510 333.5h1M935 333.5h1M1000 333.5h1M511 334.5h1M934 334.5h1M1001 334.5h1M512 335.5h1M932 335.5h2M1002 335.5h2M513 336.5h1M930 336.5h2M1004 336.5h1M514 337.5h1M928 337.5h2M1005 337.5h1M514 338.5h1M926 338.5h2M1006 338.5h1M515 339.5h1M924 339.5h2M1007 339.5h2M516 340.5h1M922 340.5h2M1009 340.5h4M517 341.5h1M920 341.5h2M1013 341.5h3M518 342.5h1M918 342.5h2M1016 342.5h2M519 343.5h1M916 343.5h2M1018 343.5h2M519 344.5h1M915 344.5h1M1020 344.5h2M520 345.5h1M913 345.5h2M1022 345.5h2M521 346.5h1M911 346.5h2M1024 346.5h2M522 347.5h1M910 347.5h1M1026 347.5h1M522 348.5h1M908 348.5h2M1027 348.5h1M523 349.5h1M906 349.5h2M1028 349.5h2M524 350.5h1M905 350.5h1M1030 350.5h1M525 351.5h1M904 351.5h1M1031 351.5h1M525 352.5h1M903 352.5h1M1032 352.5h1M526 353.5h1M902 353.5h1M1033 353.5h2M527 354.5h1M901 354.5h1M1035 354.5h1M527 355.5h1M900 355.5h1M1036 355.5h1M528 356.5h1M899 356.5h1M1037 356.5h1M529 357.5h1M898 357.5h1M1038 357.5h1M529 358.5h1M897 358.5h1M1039 358.5h1M530 359.5h1M896 359.5h1M1040 359.5h1M531 360.5h1M895 360.5h1M1041 360.5h2M532 361.5h1M894 361.5h1M1043 361.5h1M532 362.5h1M894 362.5h1M1044 362.5h1M533 363.5h1M893 363.5h1M1045 363.5h1M534 364.5h1M892 364.5h1M1046 364.5h1M535 365.5h1M891 365.5h1M1047 365.5h1M536 366.5h2M891 366.5h1M1048 366.5h2M538 367.5h1M890 367.5h1M1050 367.5h1M539 368.5h1M889 368.5h1M1051 368.5h1M540 369.5h1M889 369.5h1M1052 369.5h1M541 370.5h1M888 370.5h1M1053 370.5h2M542 371.5h1M887 371.5h1M1055 371.5h1M543 372.5h2M886 372.5h1M1056 372.5h1M545 373.5h1M886 373.5h1M1057 373.5h1M546 374.5h1M885 374.5h1M1058 374.5h1M547 375.5h2M884 375.5h1M1059 375.5h1M549 376.5h3M883 376.5h1M1060 376.5h1M552 377.5h2M883 377.5h1M1061 377.5h2M554 378.5h3M882 378.5h1M1063 378.5h1M557 379.5h3M881 379.5h1M1064 379.5h1M560 380.5h2M880 380.5h1M1065 380.5h1M562 381.5h2M879 381.5h1M1066 381.5h1M564 382.5h1M878 382.5h1M1067 382.5h2M565 383.5h2M878 383.5h1M1069 383.5h1M567 384.5h1M877 384.5h1M1070 384.5h1M568 385.5h2M876 385.5h1M1071 385.5h2M570 386.5h1M875 386.5h1M1073 386.5h2M571 387.5h2M874 387.5h1M1075 387.5h2M573 388.5h1M874 388.5h1M1077 388.5h3M574 389.5h2M873 389.5h1M1080 389.5h2M576 390.5h2M872 390.5h1M1082 390.5h5M578 391.5h1M871 391.5h1M1087 391.5h6M579 392.5h2M871 392.5h1M1093 392.5h2M581 393.5h1M870 393.5h1M1095 393.5h2M582 394.5h2M869 394.5h1M1097 394.5h4M584 395.5h2M869 395.5h1M1101 395.5h4M586 396.5h1M654 396.5h16M868 396.5h1M1105 396.5h10M587 397.5h1M652 397.5h2M670 397.5h8M867 397.5h1M588 398.5h2M650 398.5h2M678 398.5h5M866 398.5h1M590 399.5h1M648 399.5h2M683 399.5h4M866 399.5h1M591 400.5h1M646 400.5h2M687 400.5h4M865 400.5h1M592 401.5h1M645 401.5h1M691 401.5h3M864 401.5h1M593 402.5h2M644 402.5h1M694 402.5h1M864 402.5h1M595 403.5h1M643 403.5h1M695 403.5h1M863 403.5h1M596 404.5h1M642 404.5h1M696 404.5h1M863 404.5h1M597 405.5h2M641 405.5h1M697 405.5h1M862 405.5h1M599 406.5h2M640 406.5h1M698 406.5h2M861 406.5h1M601 407.5h1M639 407.5h1M700 407.5h1M861 407.5h1M602 408.5h2M637 408.5h2M701 408.5h1M860 408.5h1M604 409.5h2M633 409.5h4M702 409.5h1M859 409.5h1M606 410.5h2M630 410.5h3M703 410.5h1M859 410.5h1M608 411.5h4M626 411.5h4M704 411.5h2M858 411.5h1M612 412.5h4M621 412.5h5M706 412.5h1M858 412.5h1M616 413.5h5M707 413.5h1M857 413.5h1M708 414.5h2M856 414.5h1M710 415.5h1M856 415.5h1M711 416.5h2M855 416.5h1M713 417.5h1M854 417.5h1M714 418.5h1M854 418.5h1M715 419.5h1M853 419.5h1M716 420.5h1M853 420.5h1M717 421.5h2M852 421.5h1M719 422.5h1M852 422.5h1M720 423.5h1M851 423.5h1M721 424.5h1M851 424.5h1M722 425.5h1M850 425.5h1M723 426.5h1M849 426.5h1M723 427.5h1M849 427.5h1M724 428.5h1M848 428.5h1M725 429.5h1M848 429.5h1M726 430.5h1M847 430.5h1M726 431.5h1M847 431.5h1M727 432.5h1M846 432.5h1M728 433.5h1M846 433.5h1M729 434.5h1M845 434.5h1M729 435.5h1M844 435.5h1M730 436.5h1M844 436.5h1M731 437.5h1M843 437.5h1M732 438.5h1M842 438.5h1M733 439.5h1M842 439.5h1M734 440.5h1M841 440.5h1M735 441.5h1M840 441.5h1M735 442.5h1M839 442.5h1M736 443.5h1M839 443.5h1M737 444.5h1M838 444.5h1M738 445.5h1M837 445.5h1M739 446.5h1M837 446.5h1M740 447.5h1M836 447.5h1M741 448.5h2M835 448.5h1M743 449.5h2M834 449.5h1M745 450.5h2M833 450.5h1M747 451.5h2M831 451.5h2M749 452.5h1M830 452.5h1M750 453.5h1M829 453.5h1M751 454.5h2M828 454.5h1M753 455.5h1M827 455.5h1M754 456.5h1M825 456.5h2M755 457.5h2M824 457.5h1M757 458.5h1M822 458.5h2M758 459.5h1M821 459.5h1M759 460.5h2M819 460.5h2M761 461.5h2M818 461.5h1M763 462.5h2M817 462.5h1M765 463.5h2M816 463.5h1M767 464.5h3M815 464.5h1M770 465.5h2M814 465.5h1M772 466.5h3M813 466.5h1M775 467.5h2M812 467.5h1M777 468.5h3M810 468.5h2M780 469.5h3M808 469.5h2M783 470.5h4M806 470.5h2M787 471.5h3M804 471.5h2M790 472.5h4M800 472.5h4M794 473.5h6" fill="none" stroke="#ff0000" stroke-width="1"/>
<path d="M95 60.5h1M95 61.5h2M94 62.5h1M96 62.5h1M94 63.5h1M97 63.5h1M93 64.5h1M97 64.5h1M93 65.5h1M98 65.5h1M92 66.5h1M98 66.5h1M92 67.5h1M99 67.5h1M91 68.5h1M99 68.5h1M91 69.5h1M100 69.5h1M90 70.5h1M100 70.5h1M90 71.5h1M101 71.5h1M89 72.5h1M101 72.5h1M89 73.5h1M102 73.5h1M88 74.5h1M102 74.5h1M88 75.5h1M103 75.5h1M87 76.5h1M103 76.5h1M87 77.5h1M104 77.5h1M86 78.5h1M104 78.5h1M86 79.5h1M105 79.5h1M85 80.5h1M105 80.5h1M85 81.5h1M105 81.5h1M84 82.5h1M106 82.5h1M84 83.5h1M106 83.5h1M84 84.5h1M106 84.5h1M83 85.5h1M107 85.5h1M83 86.5h1M107 86.5h1M83 87.5h1M107 87.5h1M82 88.5h1M108 88.5h1M82 89.5h1M108 89.5h1M82 90.5h1M108 90.5h1M81 91.5h1M109 91.5h1M81 92.5h1M109 92.5h1M81 93.5h1M109 93.5h1M80 94.5h1M110 94.5h1M80 95.5h1M110 95.5h1M80 96.5h1M110 96.5h1M79 97.5h1M110 97.5h1M79 98.5h1M111 98.5h1M79 99.5h1M111 99.5h1M78 100.5h1M111 100.5h1M78 101.5h1M112 101.5h1M78 102.5h1M112 102.5h1M77 103.5h1M112 103.5h1M77 104.5h1M113 104.5h1M77 105.5h1M113 105.5h1M76 106.5h1M113 106.5h1M76 107.5h1M114 107.5h1M76 108.5h1M114 108.5h1M75 109.5h1M115 109.5h1M75 110.5h1M115 110.5h1M74 111.5h1M116 111.5h1M74 112.5h1M117 112.5h1M74 113.5h1M118 113.5h1M73 114.5h1M118 114.5h1M73 115.5h1M119 115.5h1M73 116.5h1M120 116.5h1M72 117.5h1M121 117.5h1M72 118.5h1M121 118.5h1M71 119.5h1M122 119.5h1M71 120.5h1M123 120.5h1M71 121.5h1M123 121.5h1M70 122.5h1M124 122.5h1M70 123.5h1M125 123.5h1M69 124.5h1M126 124.5h1M69 125.5h1M126 125.5h1M69 126.5h1M127 126.5h1M68 127.5h1M128 127.5h1M68 128.5h1M129 128.5h1M68 129.5h1M129 129.5h1M67 130.5h1M130 130.5h1M67 131.5h1M130 131.5h1M66 132.5h1M131 132.5h1M66 133.5h1M131 133.5h1M66 134.5h1M132 134.5h1M65 135.5h1M132 135.5h1M65 136.5h1M132 136.5h1M65 137.5h1M133 137.5h1M64 138.5h1M133 138.5h1M64 139.5h1M134 139.5h1M64 140.5h1M134 140.5h1M63 141.5h1M134 141.5h1M63 142.5h1M135 142.5h1M63 143.5h1M135 143.5h1M62 144.5h1M136 144.5h1M62 145.5h1M136 145.5h1M61 146.5h1M136 146.5h1M61 147.5h1M137 147.5h1M61 148.5h1M137 148.5h1M60 149.5h1M138 149.5h1M60 150.5h1M138 150.5h1M60 151.5h1M138 151.5h1M59 152.5h1M139 152.5h1M59 153.5h1M139 153.5h1M58 154.5h1M140 154.5h1M58 155.5h1M140 155.5h1M58 156.5h1M140 156.5h1M57 157.5h1M141 157.5h1M57 158.5h1M141 158.5h1M56 159.5h1M141 159.5h1M56 160.5h1M142 160.5h1M56 161.5h1M142 161.5h1M55 162.5h1M143 162.5h1M55 163.5h1M143 163.5h1M54 164.5h1M143 164.5h1M54 165.5h1M144 165.5h1M53 166.5h1M144 166.5h1M53 167.5h1M144 167.5h1M53 168.5h1M145 168.5h1M52 169.5h1M145 169.5h1M52 170.5h1M145 170.5h1M3 171.5h1M51 171.5h1M146 171.5h1M3 172.5h1M51 172.5h1M146 172.5h1M4 173.5h1M51 173.5h1M147 173.5h1M4 174.5h1M50 174.5h1M147 174.5h1M5 175.5h1M50 175.5h1M147 175.5h1M5 176.5h1M50 176.5h1M148 176.5h1M5 177.5h1M50 177.5h1M148 177.5h1M6 178.5h1M49 178.5h1M148 178.5h1M6 179.5h1M49 179.5h1M149 179.5h1M7 180.5h1M49 180.5h1M149 180.5h1M7 181.5h1M49 181.5h1M150 181.5h1M8 182.5h1M48 182.5h1M150 182.5h1M8 183.5h1M48 183.5h1M151 183.5h1M8 184.5h1M48 184.5h1M151 184.5h1M9 185.5h1M48 185.5h1M152 185.5h1M9 186.5h1M47 186.5h1M152 186.5h1M10 187.5h1M47 187.5h1M153 187.5h1M10 188.5h1M47 188.5h1M153 188.5h1M11 189.5h1M47 189.5h1M154 189.5h1M11 190.5h1M46 190.5h1M154 190.5h1M12 191.5h1M46 191.5h1M155 191.5h1M13 192.5h1M46 192.5h1M155 192.5h1M13 193.5h1M46 193.5h1M156 193.5h1M14 194.5h1M45 194.5h1M156 194.5h1M15 195.5h1M45 195.5h1M157 195.5h1M16 196.5h1M45 196.5h1M158 196.5h1M16 197.5h1M45 197.5h1M159 197.5h1M17 198.5h1M44 198.5h1M160 198.5h1M18 199.5h1M44 199.5h1M161 199.5h1M219 199.5h11M19 200.5h1M43 200.5h1M162 200.5h1M215 200.5h4M230 200.5h2M19 201.5h1M43 201.5h1M163 201.5h1M208 201.5h7M232 201.5h2M20 202.5h1M42 202.5h1M164 202.5h1M203 202.5h5M234 202.5h2M21 203.5h1M41 203.5h1M165 203.5h2M201 203.5h2M236 203.5h1M22 204.5h1M41 204.5h1M167 204.5h1M199 204.5h2M237 204.5h1M22 205.5h1M40 205.5h1M168 205.5h2M197 205.5h2M238 205.5h1M23 206.5h1M39 206.5h1M170 206.5h2M195 206.5h2M239 206.5h2M24 207.5h1M38 207.5h1M172 207.5h1M194 207.5h1M241 207.5h1M25 208.5h1M38 208.5h1M173 208.5h2M193 208.5h1M242 208.5h1M25 209.5h1M37 209.5h1M175 209.5h2M192 209.5h1M243 209.5h1M26 210.5h1M36 210.5h1M177 210.5h3M190 210.5h2M244 210.5h1M27 211.5h4M36 211.5h1M180 211.5h3M189 211.5h1M245 211.5h1M31 212.5h5M183 212.5h3M188 212.5h1M246 212.5h1M186 213.5h2M246 213.5h1M247 214.5h1M248 215.5h1M249 216.5h1M249 217.5h1M250 218.5h1M251 219.5h1M252 220.5h1M252 221.5h1M253 222.5h1M254 223.5h1M254 224.5h1M255 225.5h1M256 226.5h1M256 227.5h1M257 228.5h1M258 229.5h1M258 230.5h1M259 231.5h1M260 232.5h1M260 233.5h1M261 234.5h1M262 235.5h1M262 236.5h1M263 237.5h1M395 237.5h1M264 238.5h1M394 238.5h1M396 238.5h1M264 239.5h1M394 239.5h1M397 239.5h1M265 240.5h1M393 240.5h1M398 240.5h1M266 241.5h1M393 241.5h1M399 241.5h1M267 242.5h1M392 242.5h1M400 242.5h1M267 243.5h1M392 243.5h1M401 243.5h1M268 244.5h1M391 244.5h1M402 244.5h1M269 245.5h1M390 245.5h1M403 245.5h1M270 246.5h1M390 246.5h1M403 246.5h1M270 247.5h1M389 247.5h1M404 247.5h1M271 248.5h1M389 248.5h1M405 248.5h1M272 249.5h1M388 249.5h1M406 249.5h1M273 250.5h1M388 250.5h1M407 250.5h1M273 251.5h1M387 251.5h1M408 251.5h1M274 252.5h1M386 252.5h1M409 252.5h1M275 253.5h1M386 253.5h1M410 253.5h1M275 254.5h1M385 254.5h1M411 254.5h1M276 255.5h1M385 255.5h1M411 255.5h1M276 256.5h1M384 256.5h1M412 256.5h1M277 257.5h1M384 257.5h1M413 257.5h1M277 258.5h1M383 258.5h1M413 258.5h1M278 259.5h1M383 259.5h1M414 259.5h1M278 260.5h1M382 260.5h1M415 260.5h1M279 261.5h1M382 261.5h1M415 261.5h1M279 262.5h1M381 262.5h1M416 262.5h1M280 263.5h1M381 263.5h1M417 263.5h1M280 264.5h1M380 264.5h1M418 264.5h1M281 265.5h1M380 265.5h1M418 265.5h1M281 266.5h1M379 266.5h1M419 266.5h1M282 267.5h1M379 267.5h1M420 267.5h1M282 268.5h1M378 268.5h1M420 268.5h1M283 269.5h1M378 269.5h1M421 269.5h1M283 270.5h1M378 270.5h1M422 270.5h1M284 271.5h1M377 271.5h1M422 271.5h1M284 272.5h1M377 272.5h1M423 272.5h1M285 273.5h1M376 273.5h1M424 273.5h1M286 274.5h1M376 274.5h1M424 274.5h1M286 275.5h1M375 275.5h1M425 275.5h1M287 276.5h1M375 276.5h1M426 276.5h1M288 277.5h1M374 277.5h1M426 277.5h1M288 278.5h1M374 278.5h1M427 278.5h1M289 279.5h1M373 279.5h1M427 279.5h1M289 280.5h1M373 280.5h1M428 280.5h1M290 281.5h1M372 281.5h1M428 281.5h1M291 282.5h1M372 282.5h1M429 282.5h1M291 283.5h1M371 283.5h1M429 283.5h1M292 284.5h1M370 284.5h1M430 284.5h1M293 285.5h1M370 285.5h1M431 285.5h1M294 286.5h1M369 286.5h1M431 286.5h1M294 287.5h1M368 287.5h1M432 287.5h1M295 288.5h1M368 288.5h1M432 288.5h1M296 289.5h1M367 289.5h1M433 289.5h1M297 290.5h1M367 290.5h1M433 290.5h1M297 291.5h1M366 291.5h1M434 291.5h1M298 292.5h1M365 292.5h1M434 292.5h1M299 293.5h1M365 293.5h1M435 293.5h1M300 294.5h1M364 294.5h1M436 294.5h1M300 295.5h1M363 295.5h1M436 295.5h1M301 296.5h1M363 296.5h1M437 296.5h1M302 297.5h1M362 297.5h1M437 297.5h1M303 298.5h1M361 298.5h1M438 298.5h1M304 299.5h1M359 299.5h2M438 299.5h1M304 300.5h1M358 300.5h1M439 300.5h1M305 301.5h1M357 301.5h1M439 301.5h1M306 302.5h1M356 302.5h1M440 302.5h1M307 303.5h1M355 303.5h1M441 303.5h1M972 303.5h2M308 304.5h1M354 304.5h1M441 304.5h1M971 304.5h1M974 304.5h2M309 305.5h1M353 305.5h1M442 305.5h1M970 305.5h1M976 305.5h3M309 306.5h1M352 306.5h1M442 306.5h1M969 306.5h1M979 306.5h2M310 307.5h1M351 307.5h1M443 307.5h1M898 307.5h2M967 307.5h2M981 307.5h1M311 308.5h1M350 308.5h1M443 308.5h1M895 308.5h3M900 308.5h1M966 308.5h1M982 308.5h2M312 309.5h1M349 309.5h1M444 309.5h1M893 309.5h2M901 309.5h2M965 309.5h1M984 309.5h1M313 310.5h1M348 310.5h1M444 310.5h1M892 310.5h1M903 310.5h1M964 310.5h1M985 310.5h1M314 311.5h1M347 311.5h1M445 311.5h1M891 311.5h1M904 311.5h1M963 311.5h1M986 311.5h2M315 312.5h2M347 312.5h1M445 312.5h1M890 312.5h1M905 312.5h2M962 312.5h1M988 312.5h1M317 313.5h1M346 313.5h1M446 313.5h1M889 313.5h1M907 313.5h1M961 313.5h1M989 313.5h1M318 314.5h1M346 314.5h1M446 314.5h1M888 314.5h1M908 314.5h1M961 314.5h1M989 314.5h1M319 315.5h1M345 315.5h1M447 315.5h1M887 315.5h1M909 315.5h1M960 315.5h1M990 315.5h1M320 316.5h1M345 316.5h1M447 316.5h1M886 316.5h1M910 316.5h1M959 316.5h1M990 316.5h1M321 317.5h2M344 317.5h1M448 317.5h1M885 317.5h1M911 317.5h1M958 317.5h1M991 317.5h1M323 318.5h1M344 318.5h1M448 318.5h1M884 318.5h1M912 318.5h1M957 318.5h1M992 318.5h1M324 319.5h1M343 319.5h1M449 319.5h1M884 319.5h1M913 319.5h1M956 319.5h1M992 319.5h1M325 320.5h1M343 320.5h1M449 320.5h1M883 320.5h1M913 320.5h1M956 320.5h1M993 320.5h1M326 321.5h2M342 321.5h1M450 321.5h1M882 321.5h1M914 321.5h1M955 321.5h1M993 321.5h1M328 322.5h1M342 322.5h1M450 322.5h1M882 322.5h1M915 322.5h1M954 322.5h1M994 322.5h1M329 323.5h1M341 323.5h1M451 323.5h1M881 323.5h1M916 323.5h1M953 323.5h1M994 323.5h1M330 324.5h2M341 324.5h1M451 324.5h1M880 324.5h1M917 324.5h1M952 324.5h1M995 324.5h1M332 325.5h2M340 325.5h1M452 325.5h1M880 325.5h1M918 325.5h1M950 325.5h2M996 325.5h1M334 326.5h4M340 326.5h1M452 326.5h1M879 326.5h1M919 326.5h1M949 326.5h1M996 326.5h1M338 327.5h2M453 327.5h1M878 327.5h1M920 327.5h1M948 327.5h1M997 327.5h1M454 328.5h1M878 328.5h1M921 328.5h1M947 328.5h1M997 328.5h1M454 329.5h1M877 329.5h1M922 329.5h2M945 329.5h2M998 329.5h1M455 330.5h1M876 330.5h1M924 330.5h1M943 330.5h2M999 330.5h1M455 331.5h1M876 331.5h1M925 331.5h1M941 331.5h2M999 331.5h1M456 332.5h1M875 332.5h1M926 332.5h1M938 332.5h3M1000 332.5h1M456 333.5h1M494 333.5h7M874 333.5h1M927 333.5h2M935 333.5h3M1000 333.5h1M457 334.5h1M489 334.5h5M501 334.5h6M874 334.5h1M929 334.5h2M933 334.5h2M1001 334.5h1M457 335.5h1M486 335.5h3M507 335.5h3M873 335.5h1M931 335.5h2M1001 335.5h1M458 336.5h1M484 336.5h2M510 336.5h2M873 336.5h1M1002 336.5h1M458 337.5h1M482 337.5h2M512 337.5h1M872 337.5h1M1002 337.5h1M459 338.5h1M480 338.5h2M513 338.5h1M872 338.5h1M1003 338.5h1M460 339.5h1M479 339.5h1M514 339.5h2M871 339.5h1M1003 339.5h1M461 340.5h1M478 340.5h1M516 340.5h1M871 340.5h1M1004 340.5h1M462 341.5h1M476 341.5h2M517 341.5h1M870 341.5h1M1004 341.5h1M463 342.5h1M475 342.5h1M517 342.5h1M869 342.5h1M1004 342.5h1M463 343.5h1M473 343.5h2M518 343.5h1M869 343.5h1M1005 343.5h1M464 344.5h1M471 344.5h2M519 344.5h1M868 344.5h1M1005 344.5h1M465 345.5h1M470 345.5h1M519 345.5h1M868 345.5h1M1005 345.5h1M466 346.5h1M468 346.5h2M520 346.5h1M867 346.5h1M1006 346.5h1M467 347.5h1M521 347.5h1M867 347.5h1M1006 347.5h1M521 348.5h1M866 348.5h1M1007 348.5h1M522 349.5h1M866 349.5h1M1007 349.5h1M523 350.5h1M865 350.5h1M1007 350.5h1M523 351.5h1M865 351.5h1M1008 351.5h1M524 352.5h1M864 352.5h1M1008 352.5h1M525 353.5h1M864 353.5h1M1008 353.5h1M525 354.5h1M863 354.5h1M1009 354.5h1M526 355.5h1M863 355.5h1M1009 355.5h1M526 356.5h1M862 356.5h1M1010 356.5h1M527 357.5h1M862 357.5h1M1010 357.5h1M527 358.5h1M861 358.5h1M1010 358.5h1M527 359.5h1M861 359.5h1M1011 359.5h1M527 360.5h1M860 360.5h1M1011 360.5h1M528 361.5h1M860 361.5h1M1012 361.5h1M528 362.5h1M860 362.5h1M1012 362.5h1M528 363.5h1M859 363.5h1M1013 363.5h1M529 364.5h1M859 364.5h1M1013 364.5h1M529 365.5h1M858 365.5h1M1013 365.5h1M529 366.5h1M858 366.5h1M1014 366.5h1M529 367.5h1M857 367.5h1M1014 367.5h1M530 368.5h1M857 368.5h1M1015 368.5h1M530 369.5h1M856 369.5h1M1015 369.5h1M530 370.5h1M856 370.5h1M1015 370.5h1M531 371.5h1M855 371.5h1M1016 371.5h1M531 372.5h1M855 372.5h1M1016 372.5h1M531 373.5h1M855 373.5h1M1017 373.5h1M531 374.5h1M854 374.5h1M1017 374.5h1M532 375.5h1M854 375.5h1M1018 375.5h1M532 376.5h1M853 376.5h1M1018 376.5h1M532 377.5h1M853 377.5h1M1019 377.5h1M1096 377.5h5M533 378.5h1M853 378.5h1M1019 378.5h1M1091 378.5h5M1101 378.5h2M533 379.5h1M852 379.5h1M1020 379.5h1M1090 379.5h1M1103 379.5h1M533 380.5h1M852 380.5h1M1020 380.5h1M1089 380.5h1M1104 380.5h1M533 381.5h1M852 381.5h1M1021 381.5h1M1089 381.5h1M1105 381.5h2M534 382.5h1M851 382.5h1M1021 382.5h1M1088 382.5h1M1107 382.5h1M534 383.5h1M851 383.5h1M1022 383.5h1M1087 383.5h1M1108 383.5h2M534 384.5h1M850 384.5h1M1022 384.5h1M1086 384.5h1M1110 384.5h2M535 385.5h1M850 385.5h1M1023 385.5h1M1085 385.5h1M1112 385.5h2M535 386.5h1M658 386.5h2M850 386.5h1M1023 386.5h1M1084 386.5h1M1114 386.5h1M536 387.5h1M642 387.5h3M656 387.5h2M660 387.5h2M849 387.5h1M1024 387.5h1M1084 387.5h1M536 388.5h1M628 388.5h2M639 388.5h3M645 388.5h2M654 388.5h2M662 388.5h1M849 388.5h1M1024 388.5h1M1083 388.5h1M537 389.5h1M626 389.5h2M630 389.5h4M637 389.5h2M647 389.5h2M652 389.5h2M663 389.5h1M848 389.5h1M1025 389.5h1M1082 389.5h1M537 390.5h1M625 390.5h1M634 390.5h3M649 390.5h3M664 390.5h2M848 390.5h1M1025 390.5h1M1081 390.5h1M537 391.5h1M624 391.5h1M666 391.5h1M848 391.5h1M1026 391.5h1M1080 391.5h1M538 392.5h1M622 392.5h2M667 392.5h1M847 392.5h1M1026 392.5h1M1079 392.5h1M538 393.5h1M621 393.5h1M668 393.5h1M847 393.5h1M1027 393.5h1M1078 393.5h1M539 394.5h1M620 394.5h1M669 394.5h1M847 394.5h1M1027 394.5h1M1076 394.5h2M539 395.5h1M618 395.5h2M670 395.5h2M846 395.5h1M1028 395.5h1M1075 395.5h1M539 396.5h1M617 396.5h1M672 396.5h1M846 396.5h1M1029 396.5h1M1074 396.5h1M540 397.5h1M616 397.5h1M673 397.5h1M845 397.5h1M1030 397.5h1M1073 397.5h1M540 398.5h1M614 398.5h2M674 398.5h1M845 398.5h1M1031 398.5h1M1072 398.5h1M541 399.5h1M612 399.5h2M675 399.5h1M845 399.5h1M1032 399.5h1M1071 399.5h1M541 400.5h1M610 400.5h2M676 400.5h1M844 400.5h1M1032 400.5h1M1069 400.5h2M542 401.5h1M608 401.5h2M676 401.5h1M844 401.5h1M1033 401.5h1M1067 401.5h2M542 402.5h1M606 402.5h2M677 402.5h1M843 402.5h1M1034 402.5h1M1066 402.5h1M542 403.5h1M604 403.5h2M678 403.5h1M843 403.5h1M1035 403.5h1M1064 403.5h2M543 404.5h1M603 404.5h1M679 404.5h1M843 404.5h1M1036 404.5h1M1062 404.5h2M543 405.5h1M601 405.5h2M679 405.5h1M842 405.5h1M1037 405.5h1M1060 405.5h2M544 406.5h1M600 406.5h1M680 406.5h1M842 406.5h1M1038 406.5h1M1058 406.5h2M544 407.5h1M599 407.5h1M681 407.5h1M841 407.5h1M1039 407.5h2M1056 407.5h2M544 408.5h1M597 408.5h2M682 408.5h1M841 408.5h1M1041 408.5h1M1054 408.5h2M545 409.5h1M596 409.5h1M682 409.5h1M688 409.5h5M841 409.5h1M1042 409.5h1M1052 409.5h2M545 410.5h1M595 410.5h1M683 410.5h5M692 410.5h1M840 410.5h1M1043 410.5h9M546 411.5h1M594 411.5h1M693 411.5h1M840 411.5h1M546 412.5h1M593 412.5h1M693 412.5h1M839 412.5h1M547 413.5h1M592 413.5h1M694 413.5h1M839 413.5h1M547 414.5h1M592 414.5h1M694 414.5h1M838 414.5h1M548 415.5h1M591 415.5h1M695 415.5h1M838 415.5h1M549 416.5h1M590 416.5h1M695 416.5h1M838 416.5h1M550 417.5h1M589 417.5h1M696 417.5h1M837 417.5h1M551 418.5h1M588 418.5h1M696 418.5h1M837 418.5h1M552 419.5h1M587 419.5h1M697 419.5h1M836 419.5h1M553 420.5h1M586 420.5h1M697 420.5h1M836 420.5h1M554 421.5h1M586 421.5h1M698 421.5h1M835 421.5h1M555 422.5h1M585 422.5h1M698 422.5h1M834 422.5h1M556 423.5h1M584 423.5h1M698 423.5h1M833 423.5h1M557 424.5h2M583 424.5h1M699 424.5h1M832 424.5h1M559 425.5h1M582 425.5h1M699 425.5h1M831 425.5h1M560 426.5h2M581 426.5h1M700 426.5h1M831 426.5h1M562 427.5h1M579 427.5h2M700 427.5h1M830 427.5h1M563 428.5h2M578 428.5h1M700 428.5h1M829 428.5h1M565 429.5h1M577 429.5h1M701 429.5h1M828 429.5h1M566 430.5h2M576 430.5h1M701 430.5h1M827 430.5h1M568 431.5h8M702 431.5h1M826 431.5h1M702 432.5h1M824 432.5h2M703 433.5h1M822 433.5h2M703 434.5h1M821 434.5h1M703 435.5h1M819 435.5h2M704 436.5h1M817 436.5h2M704 437.5h1M816 437.5h1M705 438.5h1M815 438.5h1M705 439.5h1M814 439.5h1M706 440.5h1M813 440.5h1M706 441.5h1M812 441.5h1M707 442.5h1M811 442.5h1M708 443.5h1M810 443.5h1M708 444.5h1M809 444.5h1M709 445.5h1M808 445.5h1M709 446.5h1M807 446.5h1M710 447.5h1M806 447.5h1M711 448.5h1M805 448.5h1M711 449.5h1M804 449.5h1M712 450.5h1M803 450.5h1M713 451.5h1M802 451.5h1M713 452.5h1M801 452.5h1M714 453.5h1M800 453.5h1M714 454.5h1M799 454.5h1M715 455.5h1M798 455.5h1M716 456.5h1M797 456.5h1M717 457.5h1M796 457.5h1M718 458.5h1M795 458.5h1M719 459.5h1M794 459.5h1M719 460.5h1M793 460.5h1M720 461.5h1M792 461.5h1M721 462.5h1M791 462.5h1M722 463.5h1M790 463.5h1M723 464.5h1M789 464.5h1M724 465.5h1M788 465.5h1M724 466.5h1M787 466.5h1M725 467.5h1M786 467.5h1M726 468.5h1M785 468.5h1M726 469.5h1M784 469.5h1M727 470.5h1M783 470.5h1M727 471.5h1M782 471.5h1M728 472.5h1M780 472.5h2M729 473.5h1M778 473.5h2M729 474.5h1M776 474.5h2M730 475.5h1M774 475.5h2M731 476.5h1M772 476.5h2M732 477.5h1M771 477.5h1M732 478.5h1M770 478.5h1M733 479.5h1M769 479.5h1M734 480.5h1M767 480.5h2M735 481.5h1M766 481.5h1M736 482.5h1M765 482.5h1M737 483.5h1M764 483.5h1M737 484.5h1M763 484.5h1M738 485.5h1M762 485.5h1M739 486.5h1M760 486.5h2M740 487.5h1M759 487.5h1M741 488.5h1M758 488.5h1M742 489.5h1M756 489.5h2M743 490.5h1M755 490.5h1M744 491.5h1M753 491.5h2M745 492.5h1M751 492.5h2M746 493.5h1M749 493.5h2M747 494.5h2" fill="none" stroke="#0000cd" stroke-width="1"/>
</g>
<rect x="3" y="165" width="1415" height="3" fill="#ff0000" />
<rect x="3" y="254" width="1415" height="3" fill="#ff0000" />
<rect x="3" y="338" width="1415" height="3" fill="#ff0000" />
<rect x="2" y="336" width="7" height="7" fill="#ff0000" />
<rect x="5" y="339" width="1" height="1" fill="#fff" />
<rect x="1412" y="336" width="7" height="7" fill="#ff0000" />
<rect x="1415" y="339" width="1" height="1" fill="#fff" />
<rect x="3" y="432" width="1415" height="3" fill="#00ff00" />
<rect x="2" y="430" width="7" height="7" fill="#00ff00" />
<rect x="5" y="433" width="1" height="1" fill="#fff" />
<rect x="1412" y="430" width="7" height="7" fill="#00ff00" />
<rect x="1415" y="433" width="1" height="1" fill="#fff" />
<rect x="3" y="545" width="1415" height="3" fill="#0000ff" />
<rect x="2" y="543" width="7" height="7" fill="#0000ff" />
<rect x="5" y="546" width="1" height="1" fill="#fff" />
<rect x="1412" y="543" width="7" height="7" fill="#0000ff" />
<rect x="1415" y="546" width="1" height="1" fill="#fff" />
<g clip-path="url(#c2)">
<rect x="3" y="595" width="1" height="18" fill="#c0c0c0" />
<rect x="11" y="600" width="1" height="13" fill="#c0c0c0" />
<rect x="19" y="604" width="1" height="9" fill="#c0c0c0" />
<rect x="27" y="606" width="1" height="7" fill="#c0c0c0" />
<rect x="35" y="602" width="1" height="11" fill="#c0c0c0" />
<rect x="43" y="593" width="1" height="20" fill="#c0c0c0" />
<rect x="51" y="584" width="1" height="29" fill="#c0c0c0" />
<rect x="59" y="577" width="1" height="36" fill="#c0c0c0" />
<rect x="67" y="576" width="1" height="37" fill="#c0c0c0" />
<rect x="75" y="574" width="1" height="39" fill="#c0c0c0" />
<rect x="83" y="575" width="1" height="38" fill="#c0c0c0" />
<rect x="91" y="575" width="1" height="38" fill="#c0c0c0" />
<rect x="99" y="576" width="1" height="37" fill="#c0c0c0" />
<rect x="107" y="579" width="1" height="34" fill="#c0c0c0" />
<rect x="115" y="585" width="1" height="28" fill="#c0c0c0" />
<rect x="123" y="590" width="1" height="23" fill="#c0c0c0" />
<rect x="131" y="595" width="1" height="18" fill="#c0c0c0" />
<rect x="139" y="604" width="1" height="9" fill="#c0c0c0" />
<rect x="147" y="611" width="1" height="2" fill="#c0c0c0" />
<rect x="155" y="612" width="1" height="4" fill="#c0c0c0" />
<rect x="163" y="612" width="1" height="10" fill="#c0c0c0" />
<rect x="171" y="612" width="1" height="10" fill="#c0c0c0" />
<rect x="179" y="612" width="1" height="10" fill="#c0c0c0" />
<rect x="187" y="612" width="1" height="9" fill="#c0c0c0" />
<rect x="195" y="612" width="1" height="8" fill="#c0c0c0" />
<rect x="203" y="612" width="1" height="7" fill="#c0c0c0" />
<rect x="211" y="612" width="1" height="10" fill="#c0c0c0" />
<rect x="219" y="612" width="1" height="13" fill="#c0c0c0" />
<rect x="227" y="612" width="1" height="12" fill="#c0c0c0" />
<rect x="235" y="612" width="1" height="13" fill="#c0c0c0" />
<rect x="243" y="612" width="1" height="15" fill="#c0c0c0" />
<rect x="251" y="612" width="1" height="16" fill="#c0c0c0" />
<rect x="259" y="612" width="1" height="22" fill="#c0c0c0" />
<rect x="267" y="612" width="1" height="28" fill="#c0c0c0" />
<rect x="275" y="612" width="1" height="32" fill="#c0c0c0" />
<rect x="283" y="612" width="1" height="36" fill="#c0c0c0" />
<rect x="291" y="612" width="1" height="38" fill="#c0c0c0" />
<rect x="299" y="612" width="1" height="38" fill="#c0c0c0" />
<rect x="307" y="612" width="1" height="37" fill="#c0c0c0" />
<rect x="315" y="612" width="1" height="43" fill="#c0c0c0" />
<rect x="323" y="612" width="1" height="46" fill="#c0c0c0" />
<rect x="331" y="612" width="1" height="45" fill="#c0c0c0" />
<rect x="339" y="612" width="1" height="45" fill="#c0c0c0" />
<rect x="347" y="612" width="1" height="32" fill="#c0c0c0" />
<rect x="355" y="612" width="1" height="25" fill="#c0c0c0" />
<rect x="363" y="612" width="1" height="20" fill="#c0c0c0" />
<rect x="371" y="612" width="1" height="17" fill="#c0c0c0" />
<rect x="379" y="612" width="1" height="12" fill="#c0c0c0" />
<rect x="387" y="612" width="1" height="9" fill="#c0c0c0" />
<rect x="395" y="612" width="1" height="5" fill="#c0c0c0" />
<rect x="403" y="612" width="1" height="5" fill="#c0c0c0" />
<rect x="411" y="612" width="1" height="8" fill="#c0c0c0" />
<rect x="419" y="612" width="1" height="14" fill="#c0c0c0" />
<rect x="427" y="612" width="1" height="18" fill="#c0c0c0" />
<rect x="435" y="612" width="1" height="22" fill="#c0c0c0" />
<rect x="443" y="612" width="1" height="25" fill="#c0c0c0" />
<rect x="451" y="612" width="1" height="27" fill="#c0c0c0" />
<rect x="459" y="612" width="1" height="28" fill="#c0c0c0" />
<rect x="467" y="612" width="1" height="30" fill="#c0c0c0" />
<rect x="475" y="612" width="1" height="24" fill="#c0c0c0" />
<rect x="483" y="612" width="1" height="21" fill="#c0c0c0" />
<rect x="491" y="612" width="1" height="21" fill="#c0c0c0" />
<rect x="499" y="612" width="1" height="22" fill="#c0c0c0" />
<rect x="507" y="612" width="1" height="23" fill="#c0c0c0" />
<rect x="515" y="612" width="1" height="27" fill="#c0c0c0" />
<rect x="523" y="612" width="1" height="35" fill="#c0c0c0" />
<rect x="531" y="612" width="1" height="41" fill="#c0c0c0" />
<rect x="539" y="612" width="1" height="47" fill="#c0c0c0" />
<rect x="547" y="612" width="1" height="50" fill="#c0c0c0" />
<rect x="555" y="612" width="1" height="47" fill="#c0c0c0" />
<rect x="563" y="612" width="1" height="43" fill="#c0c0c0" />
<rect x="571" y="612" width="1" height="41" fill="#c0c0c0" />
<rect x="579" y="612" width="1" height="40" fill="#c0c0c0" />
<rect x="587" y="612" width="1" height="35" fill="#c0c0c0" />
<rect x="595" y="612" width="1" height="31" fill="#c0c0c0" />
<rect x="603" y="612" width="1" height="31" fill="#c0c0c0" />
<rect x="611" y="612" width="1" height="28" fill="#c0c0c0" />
<rect x="619" y="612" width="1" height="22" fill="#c0c0c0" />
<rect x="627" y="612" width="1" height="18" fill="#c0c0c0" />
<rect x="635" y="612" width="1" height="20" fill="#c0c0c0" />
<rect x="643" y="612" width="1" height="16" fill="#c0c0c0" />
<rect x="651" y="612" width="1" height="16" fill="#c0c0c0" />
<rect x="659" y="612" width="1" height="14" fill="#c0c0c0" />
<rect x="667" y="612" width="1" height="16" fill="#c0c0c0" />
<rect x="675" y="612" width="1" height="16" fill="#c0c0c0" />
<rect x="683" y="612" width="1" height="18" fill="#c0c0c0" />
<rect x="691" y="612" width="1" height="18" fill="#c0c0c0" />
<rect x="699" y="612" width="1" height="24" fill="#c0c0c0" />
<rect x="707" y="612" width="1" height="30" fill="#c0c0c0" />
<rect x="715" y="612" width="1" height="33" fill="#c0c0c0" />
<rect x="723" y="612" width="1" height="35" fill="#c0c0c0" />
<rect x="731" y="612" width="1" height="38" fill="#c0c0c0" />
<rect x="739" y="612" width="1" height="40" fill="#c0c0c0" />
<rect x="747" y="612" width="1" height="37" fill="#c0c0c0" />
<rect x="755" y="612" width="1" height="33" fill="#c0c0c0" />
<rect x="763" y="612" width="1" height="30" fill="#c0c0c0" />
<rect x="771" y="612" width="1" height="25" fill="#c0c0c0" />
<rect x="779" y="612" width="1" height="23" fill="#c0c0c0" />
<rect x="787" y="612" width="1" height="23" fill="#c0c0c0" />
<rect x="795" y="612" width="1" height="20" fill="#c0c0c0" />
<rect x="803" y="612" width="1" height="16" fill="#c0c0c0" />
<rect x="811" y="612" width="1" height="9" fill="#c0c0c0" />
<rect x="819" y="612" width="1" height="4" fill="#c0c0c0" />
<rect x="827" y="612" width="1" height="2" fill="#c0c0c0" />
<rect x="835" y="612" width="1" height="1" fill="#c0c0c0" />
<rect x="843" y="606" width="1" height="7" fill="#c0c0c0" />
<rect x="851" y="597" width="1" height="16" fill="#c0c0c0" />
<rect x="859" y="588" width="1" height="25" fill="#c0c0c0" />
<rect x="867" y="581" width="1" height="32" fill="#c0c0c0" />
<rect x="875" y="576" width="1" height="37" fill="#c0c0c0" />
<rect x="883" y="575" width="1" height="38" fill="#c0c0c0" />
<rect x="891" y="574" width="1" height="39" fill="#c0c0c0" />
<rect x="899" y="576" width="1" height="37" fill="#c0c0c0" />
<rect x="907" y="580" width="1" height="33" fill="#c0c0c0" />
<rect x="915" y="584" width="1" height="29" fill="#c0c0c0" />
<rect x="923" y="585" width="1" height="28" fill="#c0c0c0" />
<rect x="931" y="586" width="1" height="27" fill="#c0c0c0" />
<rect x="939" y="583" width="1" height="30" fill="#c0c0c0" />
<rect x="947" y="580" width="1" height="33" fill="#c0c0c0" />
<rect x="955" y="579" width="1" height="34" fill="#c0c0c0" />
<rect x="963" y="578" width="1" height="35" fill="#c0c0c0" />
<rect x="971" y="580" width="1" height="33" fill="#c0c0c0" />
<rect x="979" y="587" width="1" height="26" fill="#c0c0c0" />
<rect x="987" y="593" width="1" height="20" fill="#c0c0c0" />
<rect x="995" y="600" width="1" height="13" fill="#c0c0c0" />
<rect x="1003" y="607" width="1" height="6" fill="#c0c0c0" />
<rect x="1019" y="612" width="1" height="4" fill="#c0c0c0" />
<rect x="1027" y="612" width="1" height="9" fill="#c0c0c0" />
<rect x="1035" y="612" width="1" height="13" fill="#c0c0c0" />
<rect x="1043" y="612" width="1" height="15" fill="#c0c0c0" />
<rect x="1051" y="612" width="1" height="13" fill="#c0c0c0" />
<rect x="1059" y="612" width="1" height="12" fill="#c0c0c0" />
<rect x="1067" y="612" width="1" height="8" fill="#c0c0c0" />
<rect x="1075" y="612" width="1" height="7" fill="#c0c0c0" />
<rect x="1083" y="612" width="1" height="5" fill="#c0c0c0" />
<rect x="1091" y="612" width="1" height="4" fill="#c0c0c0" />
<rect x="1099" y="612" width="1" height="7" fill="#c0c0c0" />
<rect x="1107" y="612" width="1" height="9" fill="#c0c0c0" />
<rect x="1115" y="612" width="1" height="10" fill="#c0c0c0" />
<path d="M106 575.5h2M111 575.5h3M117 575.5h3M105 576.5h1M123 576.5h3M99 577.5h3M129 577.5h1M130 578.5h2M94 579.5h2M135 579.5h2M921 579.5h3M927 579.5h3M933 579.5h3M939 579.5h3M93 580.5h1M137 580.5h1M915 580.5h3M945 580.5h3M951 580.5h3M957 580.5h3M963 580.5h3M910 581.5h2M969 581.5h3M975 581.5h1M88 582.5h2M141 582.5h2M909 582.5h1M976 582.5h2M981 582.5h1M87 583.5h1M143 583.5h1M905 583.5h1M982 583.5h2M987 583.5h3M903 584.5h2M993 584.5h3M82 585.5h2M147 585.5h2M999 585.5h1M81 586.5h1M149 586.5h1M899 586.5h1M1000 586.5h2M3 587.5h3M9 587.5h3M15 587.5h2M898 587.5h1M17 588.5h1M76 588.5h2M897 588.5h1M1005 588.5h3M21 589.5h3M75 589.5h1M153 589.5h2M27 590.5h1M71 590.5h1M155 590.5h1M893 590.5h1M1011 590.5h1M28 591.5h2M69 591.5h2M891 591.5h2M1012 591.5h2M33 592.5h3M39 592.5h1M63 592.5h3M40 593.5h2M45 593.5h3M51 593.5h3M57 593.5h3M159 593.5h2M1017 593.5h2M161 594.5h1M886 594.5h2M1019 594.5h1M885 595.5h1M165 597.5h1M881 597.5h1M1023 597.5h2M166 598.5h2M879 598.5h2M1025 598.5h1M171 601.5h1M875 601.5h1M1029 601.5h2M172 602.5h1M873 602.5h2M1031 602.5h1M173 603.5h1M1035 604.5h2M177 605.5h1M868 605.5h2M1037 605.5h1M178 606.5h1M867 606.5h1M179 607.5h1M1041 607.5h1M1042 608.5h1M183 609.5h2M863 609.5h1M1043 609.5h1M185 610.5h1M862 610.5h1M189 611.5h1M861 611.5h1M1047 611.5h1M190 612.5h2M1048 612.5h1M1049 613.5h1M195 614.5h2M856 614.5h2M197 615.5h1M855 615.5h1M1053 615.5h3M201 616.5h1M202 617.5h2M851 617.5h1M1059 617.5h2M850 618.5h1M1061 618.5h1M207 619.5h3M849 619.5h1M213 620.5h3M1065 620.5h3M219 621.5h3M844 621.5h2M1071 621.5h3M1077 621.5h3M1095 621.5h3M1101 621.5h3M1107 621.5h3M1113 621.5h3M225 622.5h3M231 622.5h3M237 622.5h3M243 622.5h3M843 622.5h1M1083 622.5h3M1089 622.5h3M249 623.5h3M255 624.5h3M423 624.5h3M429 624.5h3M435 624.5h3M838 624.5h2M261 625.5h1M417 625.5h3M441 625.5h3M837 625.5h1M262 626.5h2M413 626.5h1M447 626.5h2M267 627.5h3M411 627.5h2M449 627.5h1M831 627.5h3M407 628.5h1M453 628.5h3M273 629.5h2M405 629.5h2M826 629.5h2M275 630.5h1M459 630.5h3M683 630.5h1M687 630.5h3M693 630.5h3M699 630.5h2M825 630.5h1M279 631.5h1M401 631.5h1M465 631.5h1M675 631.5h3M681 631.5h2M701 631.5h1M705 631.5h1M280 632.5h2M400 632.5h1M466 632.5h2M669 632.5h3M706 632.5h2M819 632.5h3M399 633.5h1M471 633.5h2M663 633.5h3M711 633.5h3M285 634.5h2M473 634.5h1M657 634.5h3M717 634.5h3M814 634.5h2M287 635.5h1M394 635.5h2M477 635.5h3M723 635.5h1M813 635.5h1M291 636.5h1M393 636.5h1M483 636.5h3M652 636.5h2M724 636.5h2M809 636.5h1M292 637.5h2M489 637.5h3M495 637.5h3M501 637.5h3M651 637.5h1M807 637.5h2M388 638.5h2M507 638.5h3M513 638.5h3M646 638.5h2M729 638.5h2M297 639.5h3M387 639.5h1M519 639.5h3M525 639.5h3M641 639.5h1M645 639.5h1M731 639.5h1M801 639.5h3M303 640.5h3M531 640.5h3M639 640.5h2M735 640.5h3M309 641.5h1M381 641.5h3M537 641.5h1M741 641.5h2M797 641.5h1M310 642.5h2M538 642.5h2M634 642.5h2M743 642.5h1M747 642.5h1M795 642.5h2M377 643.5h1M543 643.5h3M633 643.5h1M748 643.5h2M753 643.5h1M789 643.5h3M315 644.5h2M375 644.5h2M549 644.5h2M754 644.5h2M759 644.5h2M779 644.5h1M783 644.5h3M317 645.5h1M551 645.5h1M627 645.5h3M761 645.5h1M765 645.5h2M773 645.5h1M777 645.5h2M321 646.5h1M370 646.5h2M555 646.5h1M623 646.5h1M767 646.5h1M771 646.5h2M322 647.5h2M369 647.5h1M556 647.5h2M621 647.5h2M364 648.5h2M616 648.5h2M327 649.5h3M363 649.5h1M561 649.5h1M615 649.5h1M353 650.5h1M357 650.5h3M562 650.5h2M609 650.5h3M333 651.5h3M345 651.5h3M351 651.5h2M567 651.5h3M605 651.5h1M339 652.5h3M573 652.5h3M603 652.5h2M579 653.5h3M585 653.5h3M597 653.5h3M591 654.5h3" fill="none" stroke="#ff0000" stroke-width="1"/>
</g>
<g clip-path="url(#c3)">
<line x1="3" y1="709.5" x2="1418" y2="709.5" stroke="#c0c0c0" stroke-dasharray="3 3"/>
<line x1="3" y1="760.5" x2="1418" y2="760.5" stroke="#c0c0c0" stroke-dasharray="3 3"/>
<path d="M858 708.5h3M855 709.5h3M861 709.5h4M853 710.5h2M865 710.5h6M851 711.5h2M871 711.5h5M55 712.5h5M850 712.5h1M876 712.5h1M49 713.5h6M60 713.5h1M849 713.5h1M877 713.5h2M45 714.5h4M61 714.5h1M848 714.5h1M879 714.5h1M953 714.5h11M43 715.5h2M62 715.5h1M847 715.5h1M880 715.5h1M949 715.5h4M964 715.5h1M42 716.5h1M63 716.5h2M846 716.5h1M881 716.5h2M939 716.5h10M964 716.5h1M41 717.5h1M65 717.5h1M87 717.5h5M845 717.5h1M883 717.5h9M938 717.5h1M965 717.5h1M40 718.5h1M66 718.5h1M71 718.5h16M92 718.5h2M844 718.5h1M892 718.5h1M937 718.5h1M966 718.5h1M39 719.5h1M67 719.5h4M94 719.5h2M843 719.5h1M893 719.5h2M936 719.5h1M966 719.5h1M39 720.5h1M96 720.5h2M842 720.5h1M895 720.5h1M935 720.5h1M967 720.5h1M38 721.5h1M98 721.5h2M841 721.5h1M896 721.5h1M934 721.5h1M968 721.5h1M37 722.5h1M100 722.5h1M840 722.5h1M897 722.5h2M933 722.5h1M968 722.5h1M36 723.5h1M100 723.5h1M839 723.5h1M899 723.5h1M932 723.5h1M969 723.5h1M35 724.5h1M101 724.5h1M838 724.5h1M900 724.5h1M929 724.5h3M970 724.5h1M34 725.5h1M101 725.5h1M347 725.5h1M811 725.5h2M837 725.5h1M901 725.5h1M925 725.5h4M970 725.5h1M33 726.5h1M102 726.5h1M347 726.5h2M809 726.5h2M813 726.5h2M836 726.5h1M902 726.5h1M922 726.5h3M971 726.5h1M33 727.5h1M102 727.5h1M346 727.5h1M349 727.5h2M808 727.5h1M815 727.5h3M833 727.5h3M903 727.5h2M919 727.5h3M972 727.5h1M32 728.5h1M103 728.5h1M346 728.5h1M351 728.5h1M394 728.5h2M807 728.5h1M818 728.5h5M829 728.5h4M905 728.5h1M917 728.5h2M972 728.5h1M31 729.5h1M103 729.5h1M346 729.5h1M352 729.5h1M391 729.5h3M396 729.5h1M805 729.5h2M823 729.5h6M906 729.5h1M911 729.5h6M973 729.5h1M30 730.5h1M104 730.5h1M345 730.5h1M353 730.5h2M389 730.5h2M397 730.5h1M804 730.5h1M907 730.5h4M973 730.5h1M1073 730.5h14M29 731.5h1M104 731.5h1M345 731.5h1M355 731.5h9M378 731.5h11M398 731.5h1M626 731.5h2M803 731.5h1M974 731.5h1M1069 731.5h4M1087 731.5h5M29 732.5h1M105 732.5h1M345 732.5h1M364 732.5h2M376 732.5h2M399 732.5h1M623 732.5h3M628 732.5h1M801 732.5h2M975 732.5h1M1067 732.5h2M1092 732.5h1M28 733.5h1M105 733.5h1M344 733.5h1M366 733.5h2M374 733.5h2M399 733.5h1M621 733.5h2M628 733.5h1M643 733.5h1M799 733.5h2M975 733.5h1M1065 733.5h2M1092 733.5h1M27 734.5h1M106 734.5h1M344 734.5h1M368 734.5h2M372 734.5h2M400 734.5h1M618 734.5h3M629 734.5h1M642 734.5h1M644 734.5h1M798 734.5h1M976 734.5h1M1063 734.5h2M1093 734.5h1M26 735.5h1M106 735.5h1M186 735.5h13M227 735.5h1M344 735.5h1M370 735.5h2M401 735.5h1M475 735.5h4M615 735.5h3M629 735.5h1M642 735.5h1M645 735.5h1M796 735.5h2M977 735.5h1M1062 735.5h1M1094 735.5h1M25 736.5h1M107 736.5h1M111 736.5h16M184 736.5h2M199 736.5h5M226 736.5h1M228 736.5h1M343 736.5h1M402 736.5h1M474 736.5h1M479 736.5h5M613 736.5h2M630 736.5h1M641 736.5h1M646 736.5h1M795 736.5h1M977 736.5h1M1060 736.5h2M1094 736.5h1M9 737.5h3M23 737.5h2M107 737.5h4M127 737.5h5M182 737.5h2M204 737.5h1M225 737.5h1M229 737.5h1M343 737.5h1M403 737.5h1M474 737.5h1M484 737.5h1M611 737.5h2M630 737.5h1M641 737.5h1M647 737.5h2M658 737.5h2M759 737.5h14M793 737.5h2M978 737.5h1M1051 737.5h9M1095 737.5h1M5 738.5h4M12 738.5h2M22 738.5h1M132 738.5h1M171 738.5h4M180 738.5h2M205 738.5h1M223 738.5h2M230 738.5h1M343 738.5h1M404 738.5h1M473 738.5h1M485 738.5h1M610 738.5h1M631 738.5h1M640 738.5h1M649 738.5h1M655 738.5h3M660 738.5h2M754 738.5h5M773 738.5h2M792 738.5h1M978 738.5h1M1050 738.5h1M1096 738.5h1M3 739.5h2M14 739.5h2M21 739.5h1M132 739.5h1M170 739.5h1M175 739.5h5M205 739.5h1M222 739.5h1M231 739.5h1M343 739.5h1M405 739.5h2M473 739.5h1M486 739.5h1M609 739.5h1M631 739.5h1M639 739.5h1M650 739.5h1M653 739.5h2M662 739.5h1M751 739.5h3M775 739.5h3M791 739.5h1M979 739.5h4M1049 739.5h1M1096 739.5h1M16 740.5h2M20 740.5h1M133 740.5h1M170 740.5h1M206 740.5h1M221 740.5h1M232 740.5h1M342 740.5h1M407 740.5h1M472 740.5h1M487 740.5h1M587 740.5h9M608 740.5h1M632 740.5h1M639 740.5h1M651 740.5h2M663 740.5h2M749 740.5h2M778 740.5h3M789 740.5h2M983 740.5h6M1049 740.5h1M1097 740.5h1M18 741.5h2M134 741.5h1M169 741.5h1M207 741.5h1M220 741.5h1M233 741.5h1M342 741.5h1M408 741.5h1M472 741.5h1M488 741.5h1M586 741.5h1M596 741.5h1M607 741.5h1M632 741.5h1M638 741.5h1M665 741.5h2M671 741.5h5M690 741.5h2M747 741.5h2M781 741.5h4M788 741.5h1M989 741.5h2M1048 741.5h1M1098 741.5h1M135 742.5h1M168 742.5h1M208 742.5h1M218 742.5h2M234 742.5h1M342 742.5h1M409 742.5h2M471 742.5h1M489 742.5h1M585 742.5h1M597 742.5h2M607 742.5h1M633 742.5h1M637 742.5h1M667 742.5h4M676 742.5h2M688 742.5h2M692 742.5h1M745 742.5h2M785 742.5h3M991 742.5h3M1047 742.5h1M1098 742.5h1M135 743.5h1M168 743.5h1M209 743.5h1M216 743.5h2M235 743.5h10M341 743.5h1M411 743.5h1M471 743.5h1M490 743.5h1M583 743.5h2M599 743.5h1M606 743.5h1M633 743.5h1M637 743.5h1M678 743.5h2M686 743.5h2M693 743.5h1M743 743.5h2M994 743.5h2M1046 743.5h1M1099 743.5h2M136 744.5h1M167 744.5h1M209 744.5h1M214 744.5h2M245 744.5h2M341 744.5h1M412 744.5h2M470 744.5h1M491 744.5h2M555 744.5h12M582 744.5h1M600 744.5h1M605 744.5h1M634 744.5h1M636 744.5h1M680 744.5h2M684 744.5h2M694 744.5h1M742 744.5h1M996 744.5h1M1045 744.5h1M1101 744.5h2M137 745.5h1M166 745.5h1M210 745.5h1M212 745.5h2M247 745.5h3M341 745.5h1M414 745.5h2M470 745.5h1M493 745.5h4M554 745.5h1M567 745.5h6M581 745.5h1M601 745.5h2M604 745.5h1M634 745.5h1M636 745.5h1M682 745.5h2M695 745.5h2M740 745.5h2M997 745.5h2M1018 745.5h2M1045 745.5h1M1103 745.5h3M1111 745.5h5M138 746.5h1M166 746.5h1M211 746.5h1M250 746.5h2M340 746.5h1M416 746.5h2M469 746.5h1M497 746.5h11M554 746.5h1M573 746.5h4M580 746.5h1M603 746.5h1M635 746.5h1M697 746.5h1M739 746.5h1M999 746.5h1M1016 746.5h2M1020 746.5h2M1044 746.5h1M1106 746.5h5M138 747.5h1M143 747.5h8M165 747.5h1M252 747.5h1M340 747.5h1M418 747.5h3M469 747.5h1M508 747.5h2M553 747.5h1M577 747.5h3M698 747.5h1M738 747.5h1M1000 747.5h1M1014 747.5h2M1022 747.5h1M1042 747.5h2M139 748.5h4M151 748.5h6M164 748.5h1M253 748.5h1M306 748.5h2M340 748.5h1M421 748.5h2M450 748.5h5M468 748.5h1M510 748.5h2M553 748.5h1M699 748.5h1M737 748.5h1M1001 748.5h2M1012 748.5h2M1023 748.5h2M1039 748.5h3M157 749.5h4M164 749.5h1M254 749.5h1M304 749.5h2M308 749.5h1M339 749.5h1M423 749.5h3M448 749.5h2M455 749.5h8M468 749.5h1M512 749.5h2M552 749.5h1M700 749.5h2M714 749.5h10M736 749.5h1M1003 749.5h9M1025 749.5h2M1037 749.5h2M161 750.5h3M255 750.5h1M302 750.5h2M308 750.5h1M331 750.5h9M426 750.5h11M446 750.5h2M463 750.5h5M514 750.5h2M552 750.5h1M702 750.5h1M712 750.5h2M724 750.5h2M735 750.5h1M1027 750.5h10M256 751.5h1M300 751.5h2M309 751.5h1M330 751.5h1M437 751.5h4M444 751.5h2M516 751.5h1M551 751.5h1M703 751.5h2M710 751.5h2M726 751.5h1M734 751.5h1M257 752.5h1M298 752.5h2M309 752.5h1M329 752.5h1M441 752.5h3M516 752.5h1M551 752.5h1M705 752.5h2M708 752.5h2M727 752.5h2M733 752.5h1M258 753.5h1M295 753.5h3M310 753.5h1M327 753.5h2M517 753.5h1M550 753.5h1M707 753.5h1M729 753.5h2M732 753.5h1M259 754.5h4M271 754.5h6M293 754.5h2M311 754.5h1M326 754.5h1M518 754.5h1M550 754.5h1M731 754.5h1M263 755.5h8M277 755.5h2M289 755.5h4M311 755.5h1M325 755.5h1M518 755.5h1M549 755.5h1M279 756.5h3M285 756.5h4M312 756.5h1M324 756.5h1M519 756.5h1M549 756.5h1M282 757.5h3M313 757.5h1M322 757.5h2M520 757.5h1M548 757.5h1M313 758.5h1M320 758.5h2M520 758.5h1M530 758.5h3M548 758.5h1M314 759.5h1M318 759.5h2M521 759.5h1M528 759.5h2M533 759.5h2M545 759.5h3M314 760.5h1M316 760.5h2M522 760.5h1M526 760.5h2M535 760.5h3M541 760.5h4M315 761.5h1M522 761.5h1M524 761.5h2M538 761.5h3M523 762.5h1" fill="none" stroke="#1e90ff" stroke-width="1"/>
</g>
<rect x="1419" y="30" width="2" height="1" fill="#000" />
<text x="1424.5" y="33.7" font-size="9.8" fill="#000" textLength="32.5" lengthAdjust="spacingAndGlyphs"  stroke="#000" stroke-width="0.15">1.14300</text>
<rect x="1419" y="63" width="2" height="1" fill="#000" />
<text x="1424.5" y="66.7" font-size="9.8" fill="#000" textLength="32.5" lengthAdjust="spacingAndGlyphs"  stroke="#000" stroke-width="0.15">1.13950</text>
<rect x="1419" y="96" width="2" height="1" fill="#000" />
<text x="1424.5" y="99.7" font-size="9.8" fill="#000" textLength="32.5" lengthAdjust="spacingAndGlyphs"  stroke="#000" stroke-width="0.15">1.13600</text>
<rect x="1419" y="129" width="2" height="1" fill="#000" />
<text x="1424.5" y="132.7" font-size="9.8" fill="#000" textLength="32.5" lengthAdjust="spacingAndGlyphs"  stroke="#000" stroke-width="0.15">1.13240</text>
<rect x="1419" y="162" width="2" height="1" fill="#000" />
<text x="1424.5" y="165.7" font-size="9.8" fill="#000" textLength="32.5" lengthAdjust="spacingAndGlyphs"  stroke="#000" stroke-width="0.15">1.12890</text>
<rect x="1419" y="195" width="2" height="1" fill="#000" />
<text x="1424.5" y="198.7" font-size="9.8" fill="#000" textLength="32.5" lengthAdjust="spacingAndGlyphs"  stroke="#000" stroke-width="0.15">1.12540</text>
<rect x="1419" y="228" width="2" height="1" fill="#000" />
<text x="1424.5" y="231.7" font-size="9.8" fill="#000" textLength="32.5" lengthAdjust="spacingAndGlyphs"  stroke="#000" stroke-width="0.15">1.12190</text>
<rect x="1419" y="261" width="2" height="1" fill="#000" />
<text x="1424.5" y="264.7" font-size="9.8" fill="#000" textLength="32.5" lengthAdjust="spacingAndGlyphs"  stroke="#000" stroke-width="0.15">1.11840</text>
<rect x="1419" y="294" width="2" height="1" fill="#000" />
<text x="1424.5" y="297.7" font-size="9.8" fill="#000" textLength="32.5" lengthAdjust="spacingAndGlyphs"  stroke="#000" stroke-width="0.15">1.11480</text>
<rect x="1419" y="327" width="2" height="1" fill="#000" />
<text x="1424.5" y="330.7" font-size="9.8" fill="#000" textLength="32.5" lengthAdjust="spacingAndGlyphs"  stroke="#000" stroke-width="0.15">1.11130</text>
<rect x="1419" y="360" width="2" height="1" fill="#000" />
<text x="1424.5" y="363.7" font-size="9.8" fill="#000" textLength="32.5" lengthAdjust="spacingAndGlyphs"  stroke="#000" stroke-width="0.15">1.10780</text>
<rect x="1419" y="393" width="2" height="1" fill="#000" />
<text x="1424.5" y="396.7" font-size="9.8" fill="#000" textLength="32.5" lengthAdjust="spacingAndGlyphs"  stroke="#000" stroke-width="0.15">1.10430</text>
<rect x="1419" y="426" width="2" height="1" fill="#000" />
<text x="1424.5" y="429.7" font-size="9.8" fill="#000" textLength="32.5" lengthAdjust="spacingAndGlyphs"  stroke="#000" stroke-width="0.15">1.10070</text>
<rect x="1419" y="459" width="2" height="1" fill="#000" />
<text x="1424.5" y="462.7" font-size="9.8" fill="#000" textLength="32.5" lengthAdjust="spacingAndGlyphs"  stroke="#000" stroke-width="0.15">1.09720</text>
<rect x="1419" y="492" width="2" height="1" fill="#000" />
<text x="1424.5" y="495.7" font-size="9.8" fill="#000" textLength="32.5" lengthAdjust="spacingAndGlyphs"  stroke="#000" stroke-width="0.15">1.09370</text>
<rect x="1419" y="525" width="2" height="1" fill="#000" />
<text x="1424.5" y="528.7" font-size="9.8" fill="#000" textLength="32.5" lengthAdjust="spacingAndGlyphs"  stroke="#000" stroke-width="0.15">1.09020</text>
<rect x="1419" y="558" width="2" height="1" fill="#000" />
<text x="1424.5" y="561.7" font-size="9.8" fill="#000" textLength="32.5" lengthAdjust="spacingAndGlyphs"  stroke="#000" stroke-width="0.15">1.08670</text>
<text x="1422" y="573.6999999999999" font-size="9.8" fill="#000" textLength="37.5" lengthAdjust="spacingAndGlyphs"  stroke="#000" stroke-width="0.15">0.004536</text>
<text x="1422" y="615.6999999999999" font-size="9.8" fill="#000" textLength="17" lengthAdjust="spacingAndGlyphs"  stroke="#000" stroke-width="0.15">0.00</text>
<text x="1422" y="663.6999999999999" font-size="9.8" fill="#000" textLength="41" lengthAdjust="spacingAndGlyphs"  stroke="#000" stroke-width="0.15">-0.005205</text>
<text x="1422" y="679.6999999999999" font-size="9.8" fill="#000" textLength="15" lengthAdjust="spacingAndGlyphs"  stroke="#000" stroke-width="0.15">100</text>
<text x="1422" y="712.6999999999999" font-size="9.8" fill="#000" textLength="10" lengthAdjust="spacingAndGlyphs"  stroke="#000" stroke-width="0.15">70</text>
<text x="1422" y="763.6999999999999" font-size="9.8" fill="#000" textLength="10" lengthAdjust="spacingAndGlyphs"  stroke="#000" stroke-width="0.15">30</text>
<text x="1422" y="795.9" font-size="9.8" fill="#000" textLength="5" lengthAdjust="spacingAndGlyphs"  stroke="#000" stroke-width="0.15">0</text>
<rect x="1419" y="612" width="2" height="1" fill="#000" />
<rect x="1420" y="160" width="41" height="11" fill="#ff0000" />
<text x="1424.5" y="168.9" font-size="9.8" fill="#fff" textLength="32.5" lengthAdjust="spacingAndGlyphs"  stroke="#fff" stroke-width="0.15">1.12851</text>
<rect x="1420" y="249" width="41" height="11" fill="#ff0000" />
<text x="1424.5" y="257.9" font-size="9.8" fill="#fff" textLength="32.5" lengthAdjust="spacingAndGlyphs"  stroke="#fff" stroke-width="0.15">1.11901</text>
<rect x="1420" y="333" width="41" height="11" fill="#ff0000" />
<text x="1424.5" y="341.9" font-size="9.8" fill="#fff" textLength="32.5" lengthAdjust="spacingAndGlyphs"  stroke="#fff" stroke-width="0.15">1.11000</text>
<rect x="1420" y="407" width="41" height="11" fill="#000" />
<text x="1424.5" y="415.9" font-size="9.8" fill="#fff" textLength="32.5" lengthAdjust="spacingAndGlyphs"  stroke="#fff" stroke-width="0.15">1.10223</text>
<rect x="1420" y="427" width="41" height="11" fill="#00ff00" />
<text x="1424.5" y="435.9" font-size="9.8" fill="#fff" textLength="32.5" lengthAdjust="spacingAndGlyphs"  stroke="#fff" stroke-width="0.15">1.10003</text>
<rect x="1420" y="540" width="41" height="11" fill="#0000ff" />
<text x="1424.5" y="548.9" font-size="9.8" fill="#fff" textLength="32.5" lengthAdjust="spacingAndGlyphs"  stroke="#fff" stroke-width="0.15">1.08800</text>
<polygon points="6,32.1 13.1,32.1 9.55,27.9" fill="#000" shape-rendering="auto"/>
<text x="18" y="33" font-size="9.8" fill="#000" textLength="67" lengthAdjust="spacingAndGlyphs"  stroke="#000" stroke-width="0.15">EURUSD-,Daily</text>
<text x="91" y="33" font-size="9.8" fill="#000" textLength="140.5" lengthAdjust="spacingAndGlyphs"  stroke="#000" stroke-width="0.15">1.10215 1.10229 1.10190 1.10223</text>
<text x="7" y="575.5" font-size="9.8" fill="#000" textLength="153.5" lengthAdjust="spacingAndGlyphs"  stroke="#000" stroke-width="0.15">MACD(12,26,9) -0.001035 -0.000822</text>
<text x="7" y="681.5" font-size="9.8" fill="#000" textLength="68" lengthAdjust="spacingAndGlyphs"  stroke="#000" stroke-width="0.15">RSI(14) 41.4474</text>
<rect x="4" y="39" width="223" height="68" fill="#fff" />
<path d="M6 41H58V65H115V105H6Z" fill="url(#gb)"/>
<path d="M173 41H225V105H117V65H173Z" fill="url(#gb)"/>
<rect x="6" y="41" width="52" height="1" fill="#2a2ac8" />
<rect x="6" y="41" width="1" height="64" fill="#2a2ac8" />
<rect x="173" y="41" width="52" height="1" fill="#2a2ac8" />
<rect x="224" y="41" width="1" height="64" fill="#2a2ac8" />
<rect x="10" y="64" width="44" height="1" fill="#1a1aa8" />
<rect x="10" y="65" width="44" height="1" fill="#7a7af2" />
<rect x="177" y="64" width="44" height="1" fill="#1a1aa8" />
<rect x="177" y="65" width="44" height="1" fill="#7a7af2" />
<text x="18.5" y="57" font-size="12" fill="#fff" textLength="26" lengthAdjust="spacingAndGlyphs" >SELL</text>
<text x="186.5" y="57" font-size="12" fill="#fff" textLength="23.5" lengthAdjust="spacingAndGlyphs" >BUY</text>
<rect x="60" y="41" width="111" height="22" fill="#a8a8a8" />
<rect x="61" y="42" width="109" height="20" fill="#fff" />
<rect x="61" y="42" width="20" height="20" fill="url(#gs)" />
<rect x="81" y="42" width="1" height="20" fill="#b0b0b0" />
<rect x="150" y="42" width="20" height="20" fill="url(#gs)" />
<rect x="149" y="42" width="1" height="20" fill="#b0b0b0" />
<polygon points="68,50 73.4,50 70.7,53.2" fill="#4a5cc0" shape-rendering="auto"/>
<polygon points="157,53.2 162.4,53.2 159.7,50" fill="#4a5cc0" shape-rendering="auto"/>
<text x="146" y="56" font-size="12.5" fill="#000" textLength="23.5" lengthAdjust="spacingAndGlyphs" text-anchor="end" >1.00</text>
<text x="26.5" y="96" font-size="12" fill="#fff" textLength="23" lengthAdjust="spacingAndGlyphs" font-weight="bold" >1.10</text>
<text x="54.3" y="96.3" font-size="35" fill="#fff" textLength="33.6" lengthAdjust="spacingAndGlyphs" stroke="url(#gb)" stroke-width="0.9" paint-order="fill stroke" shape-rendering="auto">22</text>
<text x="93.5" y="80.5" font-size="11.5" fill="#fff" textLength="6.5" lengthAdjust="spacingAndGlyphs" font-weight="bold" >3</text>
<text x="136.5" y="96" font-size="12" fill="#fff" textLength="23" lengthAdjust="spacingAndGlyphs" font-weight="bold" >1.10</text>
<text x="164.6" y="96.3" font-size="35" fill="#fff" textLength="35" lengthAdjust="spacingAndGlyphs" stroke="url(#gb)" stroke-width="0.9" paint-order="fill stroke" shape-rendering="auto">24</text>
<text x="204" y="80" font-size="11.5" fill="#fff" textLength="6.5" lengthAdjust="spacingAndGlyphs" font-weight="bold" >2</text>
<rect x="3" y="800" width="1" height="3" fill="#000" />
<text x="2.4" y="812.4" font-size="9.8" fill="#000" textLength="49.8" lengthAdjust="spacingAndGlyphs"  stroke="#000" stroke-width="0.15">16 Jun 2019</text>
<rect x="67" y="800" width="1" height="3" fill="#000" />
<text x="66.4" y="812.4" font-size="9.8" fill="#000" textLength="49.8" lengthAdjust="spacingAndGlyphs"  stroke="#000" stroke-width="0.15">25 Jun 2019</text>
<rect x="131" y="800" width="1" height="3" fill="#000" />
<text x="130.4" y="812.4" font-size="9.8" fill="#000" textLength="41.9" lengthAdjust="spacingAndGlyphs"  stroke="#000" stroke-width="0.15">4 Jul 2019</text>
<rect x="195" y="800" width="1" height="3" fill="#000" />
<text x="194.4" y="812.4" font-size="9.8" fill="#000" textLength="46.8" lengthAdjust="spacingAndGlyphs"  stroke="#000" stroke-width="0.15">14 Jul 2019</text>
<rect x="259" y="800" width="1" height="3" fill="#000" />
<text x="258.4" y="812.4" font-size="9.8" fill="#000" textLength="46.8" lengthAdjust="spacingAndGlyphs"  stroke="#000" stroke-width="0.15">23 Jul 2019</text>
<rect x="323" y="800" width="1" height="3" fill="#000" />
<text x="322.4" y="812.4" font-size="9.8" fill="#000" textLength="48.2" lengthAdjust="spacingAndGlyphs"  stroke="#000" stroke-width="0.15">1 Aug 2019</text>
<rect x="387" y="800" width="1" height="3" fill="#000" />
<text x="386.4" y="812.4" font-size="9.8" fill="#000" textLength="53.1" lengthAdjust="spacingAndGlyphs"  stroke="#000" stroke-width="0.15">11 Aug 2019</text>
<rect x="451" y="800" width="1" height="3" fill="#000" />
<text x="450.4" y="812.4" font-size="9.8" fill="#000" textLength="53.1" lengthAdjust="spacingAndGlyphs"  stroke="#000" stroke-width="0.15">20 Aug 2019</text>
<rect x="515" y="800" width="1" height="3" fill="#000" />
<text x="514.4" y="812.4" font-size="9.8" fill="#000" textLength="53.1" lengthAdjust="spacingAndGlyphs"  stroke="#000" stroke-width="0.15">29 Aug 2019</text>
<rect x="579" y="800" width="1" height="3" fill="#000" />
<text x="578.4" y="812.4" font-size="9.8" fill="#000" textLength="47.5" lengthAdjust="spacingAndGlyphs"  stroke="#000" stroke-width="0.15">8 Sep 2019</text>
<rect x="643" y="800" width="1" height="3" fill="#000" />
<text x="642.4" y="812.4" font-size="9.8" fill="#000" textLength="52.4" lengthAdjust="spacingAndGlyphs"  stroke="#000" stroke-width="0.15">17 Sep 2019</text>
<rect x="707" y="800" width="1" height="3" fill="#000" />
<text x="706.4" y="812.4" font-size="9.8" fill="#000" textLength="52.4" lengthAdjust="spacingAndGlyphs"  stroke="#000" stroke-width="0.15">26 Sep 2019</text>
<rect x="771" y="800" width="1" height="3" fill="#000" />
<text x="770.4" y="812.4" font-size="9.8" fill="#000" textLength="46.4" lengthAdjust="spacingAndGlyphs"  stroke="#000" stroke-width="0.15">6 Oct 2019</text>
<rect x="835" y="800" width="1" height="3" fill="#000" />
<text x="834.4" y="812.4" font-size="9.8" fill="#000" textLength="51.3" lengthAdjust="spacingAndGlyphs"  stroke="#000" stroke-width="0.15">15 Oct 2019</text>
<rect x="899" y="800" width="1" height="3" fill="#000" />
<text x="898.4" y="812.4" font-size="9.8" fill="#000" textLength="51.3" lengthAdjust="spacingAndGlyphs"  stroke="#000" stroke-width="0.15">24 Oct 2019</text>
<rect x="963" y="800" width="1" height="3" fill="#000" />
<text x="962.4" y="812.4" font-size="9.8" fill="#000" textLength="48.5" lengthAdjust="spacingAndGlyphs"  stroke="#000" stroke-width="0.15">3 Nov 2019</text>
<rect x="1027" y="800" width="1" height="3" fill="#000" />
<text x="1026.4" y="812.4" font-size="9.8" fill="#000" textLength="53.4" lengthAdjust="spacingAndGlyphs"  stroke="#000" stroke-width="0.15">12 Nov 2019</text>
<rect x="1091" y="800" width="1" height="3" fill="#000" />
<text x="1090.4" y="812.4" font-size="9.8" fill="#000" textLength="53.4" lengthAdjust="spacingAndGlyphs"  stroke="#000" stroke-width="0.15">21 Nov 2019</text>
<rect x="0" y="820" width="1463" height="2" fill="#e4e4e4" />
<rect x="0" y="822" width="1463" height="20" fill="#f0f0f0" />
<rect x="0" y="842" width="1463" height="3" fill="#fafafa" />
<rect x="0" y="822" width="1463" height="1" fill="#000" />
<rect x="5" y="822" width="106" height="18" fill="#fff" />
<rect x="4" y="822" width="1" height="19" fill="#000" />
<rect x="111" y="822" width="1" height="19" fill="#000" />
<rect x="4" y="840" width="108" height="1" fill="#000" />
<text x="15.5" y="837.2" font-size="13.3" fill="#000" textLength="84.5" lengthAdjust="spacingAndGlyphs" >EURUSD-,Daily</text>
<text x="122.5" y="837.2" font-size="13.3" fill="#808080" textLength="85.8" lengthAdjust="spacingAndGlyphs" >AUDUSD-,Daily</text>
<text x="232.5" y="837.2" font-size="13.3" fill="#808080" textLength="83.0" lengthAdjust="spacingAndGlyphs" >USDCHF-,Daily</text>
<text x="339.5" y="837.2" font-size="13.3" fill="#808080" textLength="85.5" lengthAdjust="spacingAndGlyphs" >USDCAD-,Daily</text>
<text x="448.4" y="837.2" font-size="13.3" fill="#808080" textLength="87.6" lengthAdjust="spacingAndGlyphs" >USDCNH-,Daily</text>
<text x="559.5" y="837.2" font-size="13.3" fill="#808080" textLength="96.2" lengthAdjust="spacingAndGlyphs" >EURCHF-,Weekly</text>
<text x="680" y="837.2" font-size="13.3" fill="#808080" textLength="99.6" lengthAdjust="spacingAndGlyphs" >XAUUSD-,Weekly</text>
<text x="803.5" y="837.2" font-size="13.3" fill="#808080" textLength="72.0" lengthAdjust="spacingAndGlyphs" >GBPUSD-,H1</text>
<text x="899" y="837.2" font-size="13.3" fill="#808080" textLength="56.2" lengthAdjust="spacingAndGlyphs" >UKOil-,H1</text>
<text x="979.4" y="837.2" font-size="13.3" fill="#808080" textLength="67.9" lengthAdjust="spacingAndGlyphs" >USDX-,Daily</text>
<text x="1070.8" y="837.2" font-size="13.3" fill="#808080" textLength="69.2" lengthAdjust="spacingAndGlyphs" >EURCHF-,H1</text>
<text x="1164.5" y="837.2" font-size="13.3" fill="#808080" textLength="67.0" lengthAdjust="spacingAndGlyphs" >USOil-,Daily</text>
<rect x="220" y="825" width="1" height="14" fill="#808080" />
<rect x="328" y="825" width="1" height="14" fill="#808080" />
<rect x="436" y="825" width="1" height="14" fill="#808080" />
<rect x="548" y="825" width="1" height="14" fill="#808080" />
<rect x="667" y="825" width="1" height="14" fill="#808080" />
<rect x="792" y="825" width="1" height="14" fill="#808080" />
<rect x="888" y="825" width="1" height="14" fill="#808080" />
<rect x="968" y="825" width="1" height="14" fill="#808080" />
<rect x="1060" y="825" width="1" height="14" fill="#808080" />
<rect x="1152" y="825" width="1" height="14" fill="#808080" />
<rect x="1244" y="825" width="1" height="14" fill="#808080" />
<polygon points="1437.5,827.5 1437.5,834.5 1433.5,831" fill="#a0a0a0" shape-rendering="auto"/>
<polygon points="1452.5,827.5 1452.5,834.5 1456.5,831" fill="#a0a0a0" shape-rendering="auto"/>
</svg>
</body></html>
